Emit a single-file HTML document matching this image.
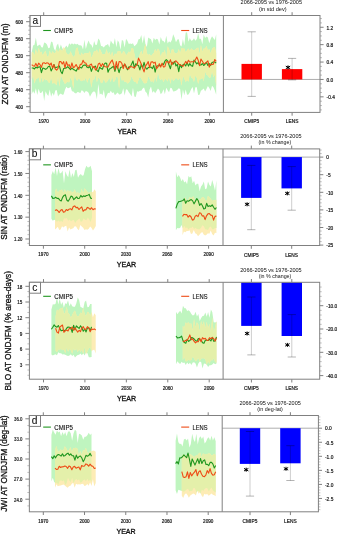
<!DOCTYPE html>
<html><head><meta charset="utf-8"><style>
html,body{margin:0;padding:0;background:#fff;width:337px;height:534px;overflow:hidden}
svg{display:block;will-change:transform}
</style></head><body>
<svg width="337" height="534" viewBox="0 0 337 534"><rect width="337" height="534" fill="#fff"/><clipPath id="cl1"><path d="M31.7,52.27 L33.09,45.51 L34.47,44.81 L35.86,37.61 L37.25,46.29 L38.64,45.22 L40.02,44.46 L41.41,47.23 L42.8,47.53 L44.18,42.58 L45.57,43.12 L46.96,44.43 L48.35,48.23 L49.73,47.77 L51.12,41.56 L52.51,42.13 L53.9,48.21 L55.28,50.93 L56.67,45.59 L58.06,43.39 L59.44,49.21 L60.83,44.53 L62.22,47.9 L63.61,50.57 L64.99,47.5 L66.38,45.61 L67.77,47.74 L69.15,43.16 L70.54,44.65 L71.93,43.3 L73.32,44.47 L74.7,43.5 L76.09,44.44 L77.48,43.76 L78.87,45.26 L80.25,45.13 L81.64,45.85 L83.03,49.46 L84.41,39.68 L85.8,49.02 L87.19,43.91 L88.58,40.58 L89.96,44.04 L91.35,44.86 L92.74,48.04 L94.12,40.94 L95.51,45.07 L96.9,44.65 L98.29,38.61 L99.67,40.17 L101.06,45.97 L102.45,46.19 L103.84,47.4 L105.22,45.48 L106.61,44.93 L108,43.94 L109.38,47.44 L110.77,40.58 L112.16,42.8 L113.55,44.45 L114.93,37.88 L116.32,47.32 L117.71,40.29 L119.09,42.58 L120.48,49.84 L121.87,39.9 L123.26,40.8 L124.64,47.61 L126.03,38.8 L127.42,40.85 L128.81,43.89 L130.19,43.6 L131.58,43.96 L132.97,43.14 L134.35,46.26 L135.74,45.09 L137.13,43.61 L138.52,39.3 L139.9,39.11 L141.29,35.07 L142.68,43.55 L144.06,35.18 L145.45,44 L146.84,47.1 L148.23,37.42 L149.61,38.57 L151,39.17 L152.39,43.39 L153.78,37.71 L155.16,40.05 L156.55,38.68 L157.94,39.51 L159.32,44.54 L160.71,37.02 L162.1,40.38 L163.49,40.97 L164.87,42.84 L166.26,35.76 L167.65,43.55 L169.03,41.24 L170.42,42.62 L171.81,39.9 L173.2,34.19 L174.58,37.39 L175.97,42.16 L177.36,39.52 L178.75,39.17 L180.13,45.17 L181.52,46.46 L182.91,39 L184.29,45.43 L185.68,32.41 L187.07,32.16 L188.46,41.71 L189.84,37.92 L191.23,40.63 L192.62,40.35 L194,38.29 L195.39,40.77 L196.78,38.94 L198.17,33.32 L199.55,39.03 L200.94,38.86 L202.33,44.22 L203.72,34.38 L205.1,38.1 L206.49,36.57 L207.88,37.47 L209.26,43.31 L210.65,39.02 L212.04,36.17 L213.43,38.14 L214.81,40.1 L216.2,34.22 L216.2,94.73 L214.81,90.39 L213.43,87.36 L212.04,85.7 L210.65,90.9 L209.26,88.11 L207.88,86.06 L206.49,88.99 L205.1,91.38 L203.72,88.59 L202.33,89.81 L200.94,90.65 L199.55,94.69 L198.17,94.91 L196.78,87.13 L195.39,87.15 L194,93.5 L192.62,86.99 L191.23,89.1 L189.84,92.21 L188.46,94.44 L187.07,94.87 L185.68,89.45 L184.29,95.36 L182.91,89.44 L181.52,99.76 L180.13,89.1 L178.75,88.25 L177.36,89.81 L175.97,90.74 L174.58,91.26 L173.2,91.58 L171.81,88.24 L170.42,87.81 L169.03,92.24 L167.65,90.23 L166.26,87.74 L164.87,94.28 L163.49,89.17 L162.1,92.7 L160.71,94.23 L159.32,90.11 L157.94,88.56 L156.55,91.02 L155.16,93.18 L153.78,90.91 L152.39,92.64 L151,86.39 L149.61,89.46 L148.23,97.4 L146.84,93.02 L145.45,91.76 L144.06,87.61 L142.68,88.61 L141.29,90.69 L139.9,90.79 L138.52,91.85 L137.13,91.14 L135.74,97.03 L134.35,96.58 L132.97,87.76 L131.58,96.44 L130.19,93.95 L128.81,92.24 L127.42,89.73 L126.03,89.31 L124.64,95.47 L123.26,88.33 L121.87,93.25 L120.48,94.2 L119.09,94.56 L117.71,92.45 L116.32,93.7 L114.93,95.36 L113.55,92.33 L112.16,92.89 L110.77,90.77 L109.38,93.24 L108,92.66 L106.61,95.63 L105.22,98.76 L103.84,89.65 L102.45,95.31 L101.06,93.55 L99.67,94.41 L98.29,84.12 L96.9,99.23 L95.51,92.65 L94.12,91.35 L92.74,92.05 L91.35,93.89 L89.96,96.74 L88.58,92.7 L87.19,91.4 L85.8,91.1 L84.41,93.1 L83.03,91 L81.64,90.21 L80.25,93.21 L78.87,92.29 L77.48,91.92 L76.09,93.6 L74.7,92.89 L73.32,91.52 L71.93,91.19 L70.54,86.79 L69.15,87.99 L67.77,88.29 L66.38,86.8 L64.99,89.77 L63.61,94.48 L62.22,94.79 L60.83,93.39 L59.44,94.41 L58.06,96.39 L56.67,90.12 L55.28,90.44 L53.9,95.84 L52.51,92.66 L51.12,96.76 L49.73,89.6 L48.35,96.07 L46.96,94.32 L45.57,91.33 L44.18,101.04 L42.8,90.74 L41.41,92.66 L40.02,93.01 L38.64,88.7 L37.25,95.11 L35.86,88.24 L34.47,93.68 L33.09,91.09 L31.7,94.32 Z"/></clipPath><path d="M31.7,52.27 L33.09,45.51 L34.47,44.81 L35.86,37.61 L37.25,46.29 L38.64,45.22 L40.02,44.46 L41.41,47.23 L42.8,47.53 L44.18,42.58 L45.57,43.12 L46.96,44.43 L48.35,48.23 L49.73,47.77 L51.12,41.56 L52.51,42.13 L53.9,48.21 L55.28,50.93 L56.67,45.59 L58.06,43.39 L59.44,49.21 L60.83,44.53 L62.22,47.9 L63.61,50.57 L64.99,47.5 L66.38,45.61 L67.77,47.74 L69.15,43.16 L70.54,44.65 L71.93,43.3 L73.32,44.47 L74.7,43.5 L76.09,44.44 L77.48,43.76 L78.87,45.26 L80.25,45.13 L81.64,45.85 L83.03,49.46 L84.41,39.68 L85.8,49.02 L87.19,43.91 L88.58,40.58 L89.96,44.04 L91.35,44.86 L92.74,48.04 L94.12,40.94 L95.51,45.07 L96.9,44.65 L98.29,38.61 L99.67,40.17 L101.06,45.97 L102.45,46.19 L103.84,47.4 L105.22,45.48 L106.61,44.93 L108,43.94 L109.38,47.44 L110.77,40.58 L112.16,42.8 L113.55,44.45 L114.93,37.88 L116.32,47.32 L117.71,40.29 L119.09,42.58 L120.48,49.84 L121.87,39.9 L123.26,40.8 L124.64,47.61 L126.03,38.8 L127.42,40.85 L128.81,43.89 L130.19,43.6 L131.58,43.96 L132.97,43.14 L134.35,46.26 L135.74,45.09 L137.13,43.61 L138.52,39.3 L139.9,39.11 L141.29,35.07 L142.68,43.55 L144.06,35.18 L145.45,44 L146.84,47.1 L148.23,37.42 L149.61,38.57 L151,39.17 L152.39,43.39 L153.78,37.71 L155.16,40.05 L156.55,38.68 L157.94,39.51 L159.32,44.54 L160.71,37.02 L162.1,40.38 L163.49,40.97 L164.87,42.84 L166.26,35.76 L167.65,43.55 L169.03,41.24 L170.42,42.62 L171.81,39.9 L173.2,34.19 L174.58,37.39 L175.97,42.16 L177.36,39.52 L178.75,39.17 L180.13,45.17 L181.52,46.46 L182.91,39 L184.29,45.43 L185.68,32.41 L187.07,32.16 L188.46,41.71 L189.84,37.92 L191.23,40.63 L192.62,40.35 L194,38.29 L195.39,40.77 L196.78,38.94 L198.17,33.32 L199.55,39.03 L200.94,38.86 L202.33,44.22 L203.72,34.38 L205.1,38.1 L206.49,36.57 L207.88,37.47 L209.26,43.31 L210.65,39.02 L212.04,36.17 L213.43,38.14 L214.81,40.1 L216.2,34.22 L216.2,94.73 L214.81,90.39 L213.43,87.36 L212.04,85.7 L210.65,90.9 L209.26,88.11 L207.88,86.06 L206.49,88.99 L205.1,91.38 L203.72,88.59 L202.33,89.81 L200.94,90.65 L199.55,94.69 L198.17,94.91 L196.78,87.13 L195.39,87.15 L194,93.5 L192.62,86.99 L191.23,89.1 L189.84,92.21 L188.46,94.44 L187.07,94.87 L185.68,89.45 L184.29,95.36 L182.91,89.44 L181.52,99.76 L180.13,89.1 L178.75,88.25 L177.36,89.81 L175.97,90.74 L174.58,91.26 L173.2,91.58 L171.81,88.24 L170.42,87.81 L169.03,92.24 L167.65,90.23 L166.26,87.74 L164.87,94.28 L163.49,89.17 L162.1,92.7 L160.71,94.23 L159.32,90.11 L157.94,88.56 L156.55,91.02 L155.16,93.18 L153.78,90.91 L152.39,92.64 L151,86.39 L149.61,89.46 L148.23,97.4 L146.84,93.02 L145.45,91.76 L144.06,87.61 L142.68,88.61 L141.29,90.69 L139.9,90.79 L138.52,91.85 L137.13,91.14 L135.74,97.03 L134.35,96.58 L132.97,87.76 L131.58,96.44 L130.19,93.95 L128.81,92.24 L127.42,89.73 L126.03,89.31 L124.64,95.47 L123.26,88.33 L121.87,93.25 L120.48,94.2 L119.09,94.56 L117.71,92.45 L116.32,93.7 L114.93,95.36 L113.55,92.33 L112.16,92.89 L110.77,90.77 L109.38,93.24 L108,92.66 L106.61,95.63 L105.22,98.76 L103.84,89.65 L102.45,95.31 L101.06,93.55 L99.67,94.41 L98.29,84.12 L96.9,99.23 L95.51,92.65 L94.12,91.35 L92.74,92.05 L91.35,93.89 L89.96,96.74 L88.58,92.7 L87.19,91.4 L85.8,91.1 L84.41,93.1 L83.03,91 L81.64,90.21 L80.25,93.21 L78.87,92.29 L77.48,91.92 L76.09,93.6 L74.7,92.89 L73.32,91.52 L71.93,91.19 L70.54,86.79 L69.15,87.99 L67.77,88.29 L66.38,86.8 L64.99,89.77 L63.61,94.48 L62.22,94.79 L60.83,93.39 L59.44,94.41 L58.06,96.39 L56.67,90.12 L55.28,90.44 L53.9,95.84 L52.51,92.66 L51.12,96.76 L49.73,89.6 L48.35,96.07 L46.96,94.32 L45.57,91.33 L44.18,101.04 L42.8,90.74 L41.41,92.66 L40.02,93.01 L38.64,88.7 L37.25,95.11 L35.86,88.24 L34.47,93.68 L33.09,91.09 L31.7,94.32 Z" fill="#bff5bf"/><path d="M31.7,52.35 L33.09,52.19 L34.47,55.42 L35.86,48.98 L37.25,54.59 L38.64,47.71 L40.02,51.92 L41.41,51.84 L42.8,55.66 L44.18,52.46 L45.57,50.78 L46.96,56.35 L48.35,57.01 L49.73,50.57 L51.12,54.44 L52.51,51.25 L53.9,52.95 L55.28,53.22 L56.67,48.93 L58.06,52.68 L59.44,49.53 L60.83,49.73 L62.22,51.22 L63.61,46.94 L64.99,48.37 L66.38,53.15 L67.77,54.3 L69.15,54.89 L70.54,51.2 L71.93,54.45 L73.32,56.89 L74.7,55.8 L76.09,48.62 L77.48,47.61 L78.87,53.63 L80.25,55.98 L81.64,52.43 L83.03,55.17 L84.41,53.19 L85.8,53.13 L87.19,53.33 L88.58,53.12 L89.96,51.31 L91.35,57.67 L92.74,55.08 L94.12,50.93 L95.51,51.68 L96.9,49.55 L98.29,53.8 L99.67,48.45 L101.06,51.5 L102.45,54.52 L103.84,53.98 L105.22,54.01 L106.61,49.08 L108,54.52 L109.38,51.99 L110.77,56.07 L112.16,51.57 L113.55,57.04 L114.93,53.49 L116.32,54.41 L117.71,51.2 L119.09,51.15 L120.48,51.2 L121.87,55.07 L123.26,51 L124.64,51.92 L126.03,55.51 L127.42,53.67 L128.81,51.49 L130.19,53 L131.58,48.26 L132.97,47.95 L134.35,53.38 L135.74,59.87 L137.13,57.77 L138.52,59.19 L139.9,53.72 L141.29,50.63 L142.68,55.09 L144.06,48.74 L145.45,44.07 L146.84,53.25 L148.23,54.95 L149.61,54.02 L151,56.37 L152.39,54.16 L153.78,52.98 L155.16,49.04 L156.55,51.59 L157.94,48.61 L159.32,50.85 L160.71,57.18 L162.1,52.41 L163.49,52.84 L164.87,49.81 L166.26,59.01 L167.65,46.13 L169.03,49.06 L170.42,54.27 L171.81,49.48 L173.2,49.32 L174.58,52.94 L175.97,53.58 L177.36,53.36 L178.75,49.02 L180.13,53.49 L181.52,47.96 L182.91,48.74 L184.29,48.49 L185.68,52.16 L187.07,50.22 L188.46,48.51 L189.84,51.23 L191.23,48.24 L192.62,49.66 L194,50.17 L195.39,49.42 L196.78,48.16 L198.17,47.45 L199.55,53.98 L200.94,45.08 L202.33,51.67 L203.72,48.55 L205.1,48.79 L206.49,45.74 L207.88,50.62 L209.26,49.12 L210.65,53.6 L212.04,49.02 L213.43,47.52 L214.81,47.17 L216.2,53.18 L216.2,86.05 L214.81,74.34 L213.43,77.49 L212.04,70.38 L210.65,77.28 L209.26,77.75 L207.88,75.59 L206.49,74.87 L205.1,71.55 L203.72,81.41 L202.33,77.47 L200.94,79.13 L199.55,79.04 L198.17,83.9 L196.78,77.77 L195.39,75.39 L194,82.11 L192.62,78.27 L191.23,77.47 L189.84,73.38 L188.46,81.81 L187.07,80.05 L185.68,82.1 L184.29,78.56 L182.91,75.38 L181.52,85.73 L180.13,77.26 L178.75,79.82 L177.36,79.23 L175.97,77.61 L174.58,79.72 L173.2,81.03 L171.81,77.1 L170.42,84.02 L169.03,76.47 L167.65,81.58 L166.26,79.49 L164.87,78.81 L163.49,82.35 L162.1,78.52 L160.71,79.93 L159.32,78.2 L157.94,70.98 L156.55,81.91 L155.16,76.05 L153.78,82.78 L152.39,81.09 L151,81.83 L149.61,78.73 L148.23,76.11 L146.84,82.63 L145.45,83.37 L144.06,83.31 L142.68,81.06 L141.29,78.47 L139.9,76.47 L138.52,79.74 L137.13,84 L135.74,82.02 L134.35,82.07 L132.97,79.48 L131.58,75.97 L130.19,80.44 L128.81,82.85 L127.42,83.49 L126.03,81.6 L124.64,82.06 L123.26,79.5 L121.87,80.84 L120.48,74.03 L119.09,88.63 L117.71,77.23 L116.32,76.68 L114.93,80.69 L113.55,81.97 L112.16,75.79 L110.77,82.27 L109.38,77.73 L108,80.32 L106.61,82.17 L105.22,82.58 L103.84,78.48 L102.45,82.57 L101.06,83.26 L99.67,78.67 L98.29,77.56 L96.9,82.22 L95.51,74.81 L94.12,79.45 L92.74,79.18 L91.35,87.71 L89.96,77.4 L88.58,78.88 L87.19,82.81 L85.8,77.41 L84.41,80.6 L83.03,80.03 L81.64,81.14 L80.25,80.35 L78.87,77.93 L77.48,80.43 L76.09,79.97 L74.7,72.73 L73.32,88.67 L71.93,80.73 L70.54,77.15 L69.15,82.39 L67.77,81.75 L66.38,82.58 L64.99,83.89 L63.61,81.6 L62.22,78.43 L60.83,75.36 L59.44,86.4 L58.06,75.67 L56.67,85.27 L55.28,83.79 L53.9,82.75 L52.51,83.72 L51.12,76.93 L49.73,82.7 L48.35,82.15 L46.96,79.51 L45.57,80.32 L44.18,78.41 L42.8,82.19 L41.41,76.63 L40.02,83.08 L38.64,76.91 L37.25,78.52 L35.86,79.3 L34.47,83.51 L33.09,75.34 L31.7,79.71 Z" fill="#fdecb5"/><path d="M31.7,52.35 L33.09,52.19 L34.47,55.42 L35.86,48.98 L37.25,54.59 L38.64,47.71 L40.02,51.92 L41.41,51.84 L42.8,55.66 L44.18,52.46 L45.57,50.78 L46.96,56.35 L48.35,57.01 L49.73,50.57 L51.12,54.44 L52.51,51.25 L53.9,52.95 L55.28,53.22 L56.67,48.93 L58.06,52.68 L59.44,49.53 L60.83,49.73 L62.22,51.22 L63.61,46.94 L64.99,48.37 L66.38,53.15 L67.77,54.3 L69.15,54.89 L70.54,51.2 L71.93,54.45 L73.32,56.89 L74.7,55.8 L76.09,48.62 L77.48,47.61 L78.87,53.63 L80.25,55.98 L81.64,52.43 L83.03,55.17 L84.41,53.19 L85.8,53.13 L87.19,53.33 L88.58,53.12 L89.96,51.31 L91.35,57.67 L92.74,55.08 L94.12,50.93 L95.51,51.68 L96.9,49.55 L98.29,53.8 L99.67,48.45 L101.06,51.5 L102.45,54.52 L103.84,53.98 L105.22,54.01 L106.61,49.08 L108,54.52 L109.38,51.99 L110.77,56.07 L112.16,51.57 L113.55,57.04 L114.93,53.49 L116.32,54.41 L117.71,51.2 L119.09,51.15 L120.48,51.2 L121.87,55.07 L123.26,51 L124.64,51.92 L126.03,55.51 L127.42,53.67 L128.81,51.49 L130.19,53 L131.58,48.26 L132.97,47.95 L134.35,53.38 L135.74,59.87 L137.13,57.77 L138.52,59.19 L139.9,53.72 L141.29,50.63 L142.68,55.09 L144.06,48.74 L145.45,44.07 L146.84,53.25 L148.23,54.95 L149.61,54.02 L151,56.37 L152.39,54.16 L153.78,52.98 L155.16,49.04 L156.55,51.59 L157.94,48.61 L159.32,50.85 L160.71,57.18 L162.1,52.41 L163.49,52.84 L164.87,49.81 L166.26,59.01 L167.65,46.13 L169.03,49.06 L170.42,54.27 L171.81,49.48 L173.2,49.32 L174.58,52.94 L175.97,53.58 L177.36,53.36 L178.75,49.02 L180.13,53.49 L181.52,47.96 L182.91,48.74 L184.29,48.49 L185.68,52.16 L187.07,50.22 L188.46,48.51 L189.84,51.23 L191.23,48.24 L192.62,49.66 L194,50.17 L195.39,49.42 L196.78,48.16 L198.17,47.45 L199.55,53.98 L200.94,45.08 L202.33,51.67 L203.72,48.55 L205.1,48.79 L206.49,45.74 L207.88,50.62 L209.26,49.12 L210.65,53.6 L212.04,49.02 L213.43,47.52 L214.81,47.17 L216.2,53.18 L216.2,86.05 L214.81,74.34 L213.43,77.49 L212.04,70.38 L210.65,77.28 L209.26,77.75 L207.88,75.59 L206.49,74.87 L205.1,71.55 L203.72,81.41 L202.33,77.47 L200.94,79.13 L199.55,79.04 L198.17,83.9 L196.78,77.77 L195.39,75.39 L194,82.11 L192.62,78.27 L191.23,77.47 L189.84,73.38 L188.46,81.81 L187.07,80.05 L185.68,82.1 L184.29,78.56 L182.91,75.38 L181.52,85.73 L180.13,77.26 L178.75,79.82 L177.36,79.23 L175.97,77.61 L174.58,79.72 L173.2,81.03 L171.81,77.1 L170.42,84.02 L169.03,76.47 L167.65,81.58 L166.26,79.49 L164.87,78.81 L163.49,82.35 L162.1,78.52 L160.71,79.93 L159.32,78.2 L157.94,70.98 L156.55,81.91 L155.16,76.05 L153.78,82.78 L152.39,81.09 L151,81.83 L149.61,78.73 L148.23,76.11 L146.84,82.63 L145.45,83.37 L144.06,83.31 L142.68,81.06 L141.29,78.47 L139.9,76.47 L138.52,79.74 L137.13,84 L135.74,82.02 L134.35,82.07 L132.97,79.48 L131.58,75.97 L130.19,80.44 L128.81,82.85 L127.42,83.49 L126.03,81.6 L124.64,82.06 L123.26,79.5 L121.87,80.84 L120.48,74.03 L119.09,88.63 L117.71,77.23 L116.32,76.68 L114.93,80.69 L113.55,81.97 L112.16,75.79 L110.77,82.27 L109.38,77.73 L108,80.32 L106.61,82.17 L105.22,82.58 L103.84,78.48 L102.45,82.57 L101.06,83.26 L99.67,78.67 L98.29,77.56 L96.9,82.22 L95.51,74.81 L94.12,79.45 L92.74,79.18 L91.35,87.71 L89.96,77.4 L88.58,78.88 L87.19,82.81 L85.8,77.41 L84.41,80.6 L83.03,80.03 L81.64,81.14 L80.25,80.35 L78.87,77.93 L77.48,80.43 L76.09,79.97 L74.7,72.73 L73.32,88.67 L71.93,80.73 L70.54,77.15 L69.15,82.39 L67.77,81.75 L66.38,82.58 L64.99,83.89 L63.61,81.6 L62.22,78.43 L60.83,75.36 L59.44,86.4 L58.06,75.67 L56.67,85.27 L55.28,83.79 L53.9,82.75 L52.51,83.72 L51.12,76.93 L49.73,82.7 L48.35,82.15 L46.96,79.51 L45.57,80.32 L44.18,78.41 L42.8,82.19 L41.41,76.63 L40.02,83.08 L38.64,76.91 L37.25,78.52 L35.86,79.3 L34.47,83.51 L33.09,75.34 L31.7,79.71 Z" fill="#ebf0a6" clip-path="url(#cl1)"/><polyline points="31.7,68.06 33.09,68.03 34.47,68.95 35.86,67.14 37.25,68.05 38.64,66.98 40.02,66.72 41.41,72.61 42.8,67.97 44.18,68.43 45.57,69.35 46.96,68.57 48.35,66.46 49.73,66.17 51.12,70.9 52.51,68.33 53.9,64.58 55.28,67.92 56.67,67.16 58.06,66.69 59.44,66.05 60.83,71.51 62.22,73.59 63.61,68.51 64.99,68.16 66.38,67.9 67.77,66.57 69.15,68.11 70.54,69.7 71.93,68.01 73.32,69.43 74.7,70.08 76.09,71.13 77.48,68.62 78.87,67.36 80.25,67.54 81.64,68.01 83.03,65.43 84.41,65.13 85.8,65.08 87.19,67.52 88.58,67.76 89.96,66.46 91.35,71.32 92.74,67.65 94.12,66.72 95.51,66.12 96.9,70.42 98.29,71.56 99.67,67.16 101.06,68.55 102.45,69.21 103.84,64.79 105.22,62.96 106.61,63.2 108,72.22 109.38,69.04 110.77,68.44 112.16,67.22 113.55,66.27 114.93,71.34 116.32,66.18 117.71,67.75 119.09,72.63 120.48,67.53 121.87,67.06 123.26,66.38 124.64,64.3 126.03,66.08 127.42,69.8 128.81,66.91 130.19,67.12 131.58,64.16 132.97,60.96 134.35,68.06 135.74,63.71 137.13,64.99 138.52,65.52 139.9,69.91 141.29,64.33 142.68,68.03 144.06,62.33 145.45,67.39 146.84,69.23 148.23,67.57 149.61,67.42 151,67 152.39,68.64 153.78,65.39 155.16,72.08 156.55,66.19 157.94,65.77 159.32,65.43 160.71,65.7 162.1,64.03 163.49,64.5 164.87,61.21 166.26,59.67 167.65,60.97 169.03,64.97 170.42,68.76 171.81,62.12 173.2,64.17 174.58,61.37 175.97,65.97 177.36,64.32 178.75,71.69 180.13,64.47 181.52,67.63 182.91,64.78 184.29,64.12 185.68,65.96 187.07,62.35 188.46,66.06 189.84,63.61 191.23,65.82 192.62,66.32 194,60.08 195.39,61.93 196.78,63.8 198.17,62.67 199.55,64.93 200.94,65 202.33,63.53 203.72,65.49 205.1,64.2 206.49,62.51 207.88,65.49 209.26,63.61 210.65,65.45 212.04,62.48 213.43,62.05 214.81,62.05 216.2,63.18" fill="none" stroke="#1f961f" stroke-width="1.1" stroke-linejoin="round"/><polyline points="31.7,64.83 33.09,65.64 34.47,66.17 35.86,63.38 37.25,66.51 38.64,63.19 40.02,64.71 41.41,67.36 42.8,62.92 44.18,62.73 45.57,63.63 46.96,62.82 48.35,63.18 49.73,65.07 51.12,63 52.51,67.95 53.9,64.63 55.28,69.1 56.67,70.06 58.06,68.33 59.44,61.67 60.83,61.55 62.22,64.1 63.61,61.69 64.99,67.92 66.38,61.72 67.77,65.64 69.15,64.67 70.54,68.34 71.93,62.93 73.32,67.76 74.7,66.79 76.09,64.46 77.48,67.22 78.87,69.34 80.25,64.38 81.64,64.2 83.03,60.37 84.41,62.8 85.8,62.94 87.19,65.66 88.58,66.17 89.96,64.93 91.35,64.02 92.74,67.91 94.12,66.51 95.51,70.04 96.9,68.87 98.29,64.08 99.67,63.16 101.06,66.43 102.45,63.64 103.84,65.78 105.22,66.75 106.61,67.05 108,67.04 109.38,64.19 110.77,61.88 112.16,59.97 113.55,63.95 114.93,69.75 116.32,61.64 117.71,68.18 119.09,61.51 120.48,61.7 121.87,63.51 123.26,68.58 124.64,63.78 126.03,67.28 127.42,68.6 128.81,68.93 130.19,66.22 131.58,66.8 132.97,67.19 134.35,67.89 135.74,65.96 137.13,64.6 138.52,58.15 139.9,60.9 141.29,64.22 142.68,68.07 144.06,71.94 145.45,66.08 146.84,64.18 148.23,61.62 149.61,67.64 151,62.1 152.39,61.74 153.78,63.16 155.16,62.13 156.55,68.68 157.94,66.92 159.32,63.77 160.71,67.09 162.1,63.16 163.49,67.01 164.87,66.71 166.26,61.61 167.65,61.68 169.03,63.15 170.42,59.8 171.81,64.64 173.2,62.38 174.58,62.04 175.97,60.76 177.36,62.33 178.75,64.17 180.13,64.77 181.52,65.39 182.91,66.42 184.29,64.32 185.68,61.38 187.07,63.34 188.46,60.23 189.84,62.29 191.23,61.81 192.62,61.7 194,61.96 195.39,59.75 196.78,57.01 198.17,60.18 199.55,65.72 200.94,59.01 202.33,61.28 203.72,63.56 205.1,63.29 206.49,62.17 207.88,60.82 209.26,67.13 210.65,64 212.04,64.53 213.43,64.12 214.81,59.46 216.2,61.41" fill="none" stroke="#ee4b16" stroke-width="1.1" stroke-linejoin="round"/><clipPath id="cl2"><path d="M51.4,175.06 L52.8,171.02 L54.2,174.25 L55.6,167.45 L57,176.04 L58.4,168.03 L59.8,173.42 L61.2,172.98 L62.6,170.58 L64,183.45 L65.4,171.31 L66.8,175.05 L68.2,177.24 L69.6,169.15 L71,178.1 L72.4,172.97 L73.8,176.94 L75.2,170.2 L76.6,169.8 L78,177.63 L79.4,175.16 L80.8,173.89 L82.2,175.64 L83.6,175.25 L85,169.36 L86.4,165.65 L87.8,167.51 L89.2,167.14 L90.6,165.64 L92,171.13 L92,217.58 L90.6,222.09 L89.2,219.56 L87.8,217.51 L86.4,220.32 L85,219.73 L83.6,218.31 L82.2,221.36 L80.8,221.7 L79.4,218.43 L78,219.86 L76.6,220.8 L75.2,223.1 L73.8,220.06 L72.4,220.33 L71,221.22 L69.6,219.47 L68.2,220.67 L66.8,217.92 L65.4,218.62 L64,218.23 L62.6,222 L61.2,221.06 L59.8,221.79 L58.4,220.55 L57,221.76 L55.6,220.41 L54.2,219.65 L52.8,220.84 L51.4,218.63 Z"/></clipPath><path d="M51.4,175.06 L52.8,171.02 L54.2,174.25 L55.6,167.45 L57,176.04 L58.4,168.03 L59.8,173.42 L61.2,172.98 L62.6,170.58 L64,183.45 L65.4,171.31 L66.8,175.05 L68.2,177.24 L69.6,169.15 L71,178.1 L72.4,172.97 L73.8,176.94 L75.2,170.2 L76.6,169.8 L78,177.63 L79.4,175.16 L80.8,173.89 L82.2,175.64 L83.6,175.25 L85,169.36 L86.4,165.65 L87.8,167.51 L89.2,167.14 L90.6,165.64 L92,171.13 L92,217.58 L90.6,222.09 L89.2,219.56 L87.8,217.51 L86.4,220.32 L85,219.73 L83.6,218.31 L82.2,221.36 L80.8,221.7 L79.4,218.43 L78,219.86 L76.6,220.8 L75.2,223.1 L73.8,220.06 L72.4,220.33 L71,221.22 L69.6,219.47 L68.2,220.67 L66.8,217.92 L65.4,218.62 L64,218.23 L62.6,222 L61.2,221.06 L59.8,221.79 L58.4,220.55 L57,221.76 L55.6,220.41 L54.2,219.65 L52.8,220.84 L51.4,218.63 Z" fill="#bff5bf"/><path d="M55,191.03 L56.41,188.57 L57.81,193.15 L59.22,190.77 L60.63,190.32 L62.03,189.4 L63.44,192.85 L64.85,189.21 L66.26,192.33 L67.66,190.19 L69.07,191.25 L70.48,190.78 L71.88,192.26 L73.29,192.55 L74.7,189.29 L76.1,193.1 L77.51,192.55 L78.92,193.12 L80.32,193.94 L81.73,188.52 L83.14,194.55 L84.54,188.32 L85.95,190.04 L87.36,191.81 L88.77,193.08 L90.17,192.33 L91.58,191.85 L92.99,192.2 L94.39,189.24 L95.8,191.24 L95.8,226 L94.39,228.51 L92.99,230.48 L91.58,227.95 L90.17,226.49 L88.77,228.63 L87.36,229.66 L85.95,229.17 L84.54,230.08 L83.14,227.84 L81.73,226.51 L80.32,224.89 L78.92,230.23 L77.51,229 L76.1,226.38 L74.7,226.32 L73.29,228.31 L71.88,228.78 L70.48,229.41 L69.07,227.57 L67.66,231.39 L66.26,225.82 L64.85,226.15 L63.44,227.54 L62.03,226.31 L60.63,229.46 L59.22,229.91 L57.81,226.8 L56.41,228.25 L55,229.4 Z" fill="#fdecb5"/><path d="M55,191.03 L56.41,188.57 L57.81,193.15 L59.22,190.77 L60.63,190.32 L62.03,189.4 L63.44,192.85 L64.85,189.21 L66.26,192.33 L67.66,190.19 L69.07,191.25 L70.48,190.78 L71.88,192.26 L73.29,192.55 L74.7,189.29 L76.1,193.1 L77.51,192.55 L78.92,193.12 L80.32,193.94 L81.73,188.52 L83.14,194.55 L84.54,188.32 L85.95,190.04 L87.36,191.81 L88.77,193.08 L90.17,192.33 L91.58,191.85 L92.99,192.2 L94.39,189.24 L95.8,191.24 L95.8,226 L94.39,228.51 L92.99,230.48 L91.58,227.95 L90.17,226.49 L88.77,228.63 L87.36,229.66 L85.95,229.17 L84.54,230.08 L83.14,227.84 L81.73,226.51 L80.32,224.89 L78.92,230.23 L77.51,229 L76.1,226.38 L74.7,226.32 L73.29,228.31 L71.88,228.78 L70.48,229.41 L69.07,227.57 L67.66,231.39 L66.26,225.82 L64.85,226.15 L63.44,227.54 L62.03,226.31 L60.63,229.46 L59.22,229.91 L57.81,226.8 L56.41,228.25 L55,229.4 Z" fill="#e4f0aa" clip-path="url(#cl2)"/><clipPath id="cl3"><path d="M175.9,171.51 L177.3,177.26 L178.69,175.09 L180.09,177.44 L181.49,181.19 L182.88,178.97 L184.28,182.45 L185.68,181.36 L187.07,184.14 L188.47,175.93 L189.87,177.41 L191.26,176.27 L192.66,183.18 L194.06,180.87 L195.45,185.44 L196.85,183.87 L198.24,183.72 L199.64,191.32 L201.04,186.43 L202.43,184.73 L203.83,181.62 L205.23,189.34 L206.62,188.61 L208.02,181.57 L209.42,184.97 L210.81,186.42 L212.21,179.95 L213.61,184.82 L215,190.79 L216.4,180.35 L216.4,227.99 L215,228.03 L213.61,229.31 L212.21,229.37 L210.81,226.53 L209.42,227.18 L208.02,229.94 L206.62,229.51 L205.23,229.25 L203.83,226.24 L202.43,225.16 L201.04,227.64 L199.64,229.17 L198.24,229.22 L196.85,228.93 L195.45,227.73 L194.06,228.96 L192.66,226.39 L191.26,228.02 L189.87,227.72 L188.47,229.63 L187.07,227.16 L185.68,228.32 L184.28,225.75 L182.88,228.22 L181.49,224.99 L180.09,227.89 L178.69,228.26 L177.3,228.12 L175.9,230.33 Z"/></clipPath><path d="M175.9,171.51 L177.3,177.26 L178.69,175.09 L180.09,177.44 L181.49,181.19 L182.88,178.97 L184.28,182.45 L185.68,181.36 L187.07,184.14 L188.47,175.93 L189.87,177.41 L191.26,176.27 L192.66,183.18 L194.06,180.87 L195.45,185.44 L196.85,183.87 L198.24,183.72 L199.64,191.32 L201.04,186.43 L202.43,184.73 L203.83,181.62 L205.23,189.34 L206.62,188.61 L208.02,181.57 L209.42,184.97 L210.81,186.42 L212.21,179.95 L213.61,184.82 L215,190.79 L216.4,180.35 L216.4,227.99 L215,228.03 L213.61,229.31 L212.21,229.37 L210.81,226.53 L209.42,227.18 L208.02,229.94 L206.62,229.51 L205.23,229.25 L203.83,226.24 L202.43,225.16 L201.04,227.64 L199.64,229.17 L198.24,229.22 L196.85,228.93 L195.45,227.73 L194.06,228.96 L192.66,226.39 L191.26,228.02 L189.87,227.72 L188.47,229.63 L187.07,227.16 L185.68,228.32 L184.28,225.75 L182.88,228.22 L181.49,224.99 L180.09,227.89 L178.69,228.26 L177.3,228.12 L175.9,230.33 Z" fill="#bff5bf"/><path d="M182.5,200.2 L183.91,199.05 L185.32,197.6 L186.74,200.71 L188.15,200.26 L189.56,197.11 L190.97,198.34 L192.39,196.95 L193.8,196.62 L195.21,202.19 L196.62,198.37 L198.04,200.21 L199.45,199.58 L200.86,199.11 L202.28,197.12 L203.69,197.18 L205.1,199.8 L206.51,201.03 L207.93,195.69 L209.34,197.31 L210.75,198.64 L212.16,200.88 L213.58,199.97 L214.99,200.46 L216.4,199.43 L216.4,233.12 L214.99,232.79 L213.58,235.41 L212.16,233.91 L210.75,230.49 L209.34,233.83 L207.93,233.2 L206.51,234.8 L205.1,235.52 L203.69,234.43 L202.28,232.03 L200.86,233.09 L199.45,234.63 L198.04,236.3 L196.62,234.12 L195.21,233.3 L193.8,229.97 L192.39,233.43 L190.97,233.92 L189.56,230.31 L188.15,230.97 L186.74,231.12 L185.32,232.33 L183.91,231.51 L182.5,235.29 Z" fill="#fdecb5"/><path d="M182.5,200.2 L183.91,199.05 L185.32,197.6 L186.74,200.71 L188.15,200.26 L189.56,197.11 L190.97,198.34 L192.39,196.95 L193.8,196.62 L195.21,202.19 L196.62,198.37 L198.04,200.21 L199.45,199.58 L200.86,199.11 L202.28,197.12 L203.69,197.18 L205.1,199.8 L206.51,201.03 L207.93,195.69 L209.34,197.31 L210.75,198.64 L212.16,200.88 L213.58,199.97 L214.99,200.46 L216.4,199.43 L216.4,233.12 L214.99,232.79 L213.58,235.41 L212.16,233.91 L210.75,230.49 L209.34,233.83 L207.93,233.2 L206.51,234.8 L205.1,235.52 L203.69,234.43 L202.28,232.03 L200.86,233.09 L199.45,234.63 L198.04,236.3 L196.62,234.12 L195.21,233.3 L193.8,229.97 L192.39,233.43 L190.97,233.92 L189.56,230.31 L188.15,230.97 L186.74,231.12 L185.32,232.33 L183.91,231.51 L182.5,235.29 Z" fill="#e4f0aa" clip-path="url(#cl3)"/><polyline points="51.4,195.89 52.8,198.39 54.2,198.32 55.6,197.26 57,198.38 58.4,198.32 59.8,200.11 61.2,201.03 62.6,197.4 64,195.44 65.4,194.84 66.8,200.02 68.2,201.29 69.6,198.94 71,196.13 72.4,196.69 73.8,199.7 75.2,198.24 76.6,196.91 78,198.56 79.4,198.21 80.8,195.43 82.2,197.04 83.6,195.87 85,196.46 86.4,195.49 87.8,195.23 89.2,194.38 90.6,198.15 92,198.43" fill="none" stroke="#1f961f" stroke-width="1.1" stroke-linejoin="round"/><polyline points="55,210.52 56.41,209.72 57.81,210.77 59.22,212.54 60.63,210.16 62.03,209.45 63.44,212.23 64.85,211.73 66.26,209.53 67.66,210.55 69.07,209.19 70.48,208.78 71.88,209.82 73.29,206.58 74.7,205.91 76.1,207.64 77.51,207.41 78.92,209.53 80.32,208.15 81.73,206.9 83.14,211.28 84.54,209.8 85.95,209.84 87.36,207.39 88.77,208.11 90.17,209.41 91.58,207.71 92.99,209.72 94.39,208.72 95.8,208.92" fill="none" stroke="#ee4b16" stroke-width="1.1" stroke-linejoin="round"/><polyline points="175.9,208.38 177.3,203.99 178.69,201.6 180.09,201.54 181.49,201 182.88,200.54 184.28,198.83 185.68,203.23 187.07,200.72 188.47,201.21 189.87,200.34 191.26,199.53 192.66,200.86 194.06,203.86 195.45,201.13 196.85,198.62 198.24,200.78 199.64,205.36 201.04,203.46 202.43,205.69 203.83,208.93 205.23,208.49 206.62,203.3 208.02,206.59 209.42,205.8 210.81,206.48 212.21,204.85 213.61,207.26 215,209.3 216.4,207.49" fill="none" stroke="#1f961f" stroke-width="1.1" stroke-linejoin="round"/><polyline points="182.5,216.4 183.91,214.27 185.32,214.67 186.74,214.48 188.15,217.16 189.56,215.47 190.97,216.75 192.39,220.1 193.8,219.64 195.21,216.16 196.62,215.3 198.04,216.61 199.45,212.84 200.86,213.29 202.28,216.08 203.69,215.71 205.1,219.64 206.51,215.81 207.93,213.82 209.34,213.53 210.75,215.22 212.16,215.38 213.58,220.12 214.99,216.38 216.4,216.15" fill="none" stroke="#ee4b16" stroke-width="1.1" stroke-linejoin="round"/><clipPath id="cl4"><path d="M51.4,309.43 L52.79,304.28 L54.17,304.61 L55.56,303.75 L56.94,296.98 L58.33,304.51 L59.72,298.75 L61.1,304.74 L62.49,302.05 L63.88,307.8 L65.26,303.35 L66.65,304.05 L68.03,300.24 L69.42,306.25 L70.81,303.37 L72.19,306.17 L73.58,306.84 L74.97,306.72 L76.35,303.17 L77.74,297.38 L79.12,299.9 L80.51,306.93 L81.9,307.53 L83.28,308.53 L84.67,302.08 L86.06,300.56 L87.44,307.2 L88.83,307.06 L90.21,304.08 L91.6,303.99 L91.6,356.93 L90.21,357.24 L88.83,357.14 L87.44,353.25 L86.06,352.21 L84.67,355.52 L83.28,353.29 L81.9,355.18 L80.51,353.53 L79.12,354.87 L77.74,355.02 L76.35,356.02 L74.97,357.4 L73.58,354.76 L72.19,355.9 L70.81,354.15 L69.42,355.62 L68.03,356.03 L66.65,355.53 L65.26,354.7 L63.88,354.29 L62.49,354.54 L61.1,353.37 L59.72,353.36 L58.33,352.35 L56.94,355.35 L55.56,354.25 L54.17,354.77 L52.79,355.51 L51.4,354.53 Z"/></clipPath><path d="M51.4,309.43 L52.79,304.28 L54.17,304.61 L55.56,303.75 L56.94,296.98 L58.33,304.51 L59.72,298.75 L61.1,304.74 L62.49,302.05 L63.88,307.8 L65.26,303.35 L66.65,304.05 L68.03,300.24 L69.42,306.25 L70.81,303.37 L72.19,306.17 L73.58,306.84 L74.97,306.72 L76.35,303.17 L77.74,297.38 L79.12,299.9 L80.51,306.93 L81.9,307.53 L83.28,308.53 L84.67,302.08 L86.06,300.56 L87.44,307.2 L88.83,307.06 L90.21,304.08 L91.6,303.99 L91.6,356.93 L90.21,357.24 L88.83,357.14 L87.44,353.25 L86.06,352.21 L84.67,355.52 L83.28,353.29 L81.9,355.18 L80.51,353.53 L79.12,354.87 L77.74,355.02 L76.35,356.02 L74.97,357.4 L73.58,354.76 L72.19,355.9 L70.81,354.15 L69.42,355.62 L68.03,356.03 L66.65,355.53 L65.26,354.7 L63.88,354.29 L62.49,354.54 L61.1,353.37 L59.72,353.36 L58.33,352.35 L56.94,355.35 L55.56,354.25 L54.17,354.77 L52.79,355.51 L51.4,354.53 Z" fill="#bff5bf"/><path d="M55.6,316.25 L56.98,309.54 L58.37,310.99 L59.75,308.83 L61.13,308.57 L62.51,307.4 L63.9,313.81 L65.28,312.95 L66.66,306.8 L68.04,312.7 L69.43,314.17 L70.81,318.05 L72.19,315.08 L73.58,312.33 L74.96,310.46 L76.34,314.72 L77.72,316.65 L79.11,315.38 L80.49,312.53 L81.87,313.65 L83.26,307.72 L84.64,313.8 L86.02,316.46 L87.4,311.8 L88.79,312.39 L90.17,315.86 L91.55,311.99 L92.93,317.21 L94.32,313.13 L95.7,315.32 L95.7,353.47 L94.32,349.73 L92.93,350.06 L91.55,351.3 L90.17,347.54 L88.79,348.13 L87.4,351.52 L86.02,354.73 L84.64,346.61 L83.26,353.94 L81.87,349.87 L80.49,352.08 L79.11,348.93 L77.72,352.3 L76.34,348.63 L74.96,350.61 L73.58,348.5 L72.19,353.73 L70.81,350.15 L69.43,349.12 L68.04,351.8 L66.66,347.42 L65.28,353.26 L63.9,349.57 L62.51,350.17 L61.13,349.06 L59.75,349.61 L58.37,349.24 L56.98,352.04 L55.6,350.84 Z" fill="#fdecb5"/><path d="M55.6,316.25 L56.98,309.54 L58.37,310.99 L59.75,308.83 L61.13,308.57 L62.51,307.4 L63.9,313.81 L65.28,312.95 L66.66,306.8 L68.04,312.7 L69.43,314.17 L70.81,318.05 L72.19,315.08 L73.58,312.33 L74.96,310.46 L76.34,314.72 L77.72,316.65 L79.11,315.38 L80.49,312.53 L81.87,313.65 L83.26,307.72 L84.64,313.8 L86.02,316.46 L87.4,311.8 L88.79,312.39 L90.17,315.86 L91.55,311.99 L92.93,317.21 L94.32,313.13 L95.7,315.32 L95.7,353.47 L94.32,349.73 L92.93,350.06 L91.55,351.3 L90.17,347.54 L88.79,348.13 L87.4,351.52 L86.02,354.73 L84.64,346.61 L83.26,353.94 L81.87,349.87 L80.49,352.08 L79.11,348.93 L77.72,352.3 L76.34,348.63 L74.96,350.61 L73.58,348.5 L72.19,353.73 L70.81,350.15 L69.43,349.12 L68.04,351.8 L66.66,347.42 L65.28,353.26 L63.9,349.57 L62.51,350.17 L61.13,349.06 L59.75,349.61 L58.37,349.24 L56.98,352.04 L55.6,350.84 Z" fill="#e4f0aa" clip-path="url(#cl4)"/><clipPath id="cl5"><path d="M176,311.81 L177.4,314.19 L178.79,312.2 L180.19,310.78 L181.59,313.48 L182.98,305.78 L184.38,308.22 L185.78,308.14 L187.17,311.01 L188.57,310.27 L189.97,311.38 L191.36,313.9 L192.76,315.59 L194.16,314.94 L195.55,311.65 L196.95,316.48 L198.34,314 L199.74,321.12 L201.14,318.04 L202.53,315.92 L203.93,315.74 L205.33,312.44 L206.72,316.74 L208.12,312.06 L209.52,317.81 L210.91,309.52 L212.31,312.25 L213.71,322.21 L215.1,322.58 L216.5,321.9 L216.5,363.39 L215.1,364.25 L213.71,362.98 L212.31,364.38 L210.91,365.19 L209.52,365.29 L208.12,366.9 L206.72,364.5 L205.33,363.84 L203.93,363.6 L202.53,368.62 L201.14,362.06 L199.74,361.39 L198.34,363.51 L196.95,367.39 L195.55,363.38 L194.16,362.17 L192.76,362.49 L191.36,364.89 L189.97,362.64 L188.57,364.21 L187.17,362.58 L185.78,364.9 L184.38,362.4 L182.98,362.88 L181.59,361.78 L180.19,364.12 L178.79,362.93 L177.4,361.25 L176,364.23 Z"/></clipPath><path d="M176,311.81 L177.4,314.19 L178.79,312.2 L180.19,310.78 L181.59,313.48 L182.98,305.78 L184.38,308.22 L185.78,308.14 L187.17,311.01 L188.57,310.27 L189.97,311.38 L191.36,313.9 L192.76,315.59 L194.16,314.94 L195.55,311.65 L196.95,316.48 L198.34,314 L199.74,321.12 L201.14,318.04 L202.53,315.92 L203.93,315.74 L205.33,312.44 L206.72,316.74 L208.12,312.06 L209.52,317.81 L210.91,309.52 L212.31,312.25 L213.71,322.21 L215.1,322.58 L216.5,321.9 L216.5,363.39 L215.1,364.25 L213.71,362.98 L212.31,364.38 L210.91,365.19 L209.52,365.29 L208.12,366.9 L206.72,364.5 L205.33,363.84 L203.93,363.6 L202.53,368.62 L201.14,362.06 L199.74,361.39 L198.34,363.51 L196.95,367.39 L195.55,363.38 L194.16,362.17 L192.76,362.49 L191.36,364.89 L189.97,362.64 L188.57,364.21 L187.17,362.58 L185.78,364.9 L184.38,362.4 L182.98,362.88 L181.59,361.78 L180.19,364.12 L178.79,362.93 L177.4,361.25 L176,364.23 Z" fill="#bff5bf"/><path d="M182.8,325.68 L184.2,328.08 L185.61,322.48 L187.01,323.23 L188.42,322.13 L189.82,324.33 L191.23,323.14 L192.63,330.51 L194.03,318.84 L195.44,327.61 L196.84,322.24 L198.25,324.3 L199.65,331.46 L201.05,321 L202.46,325.23 L203.86,321.26 L205.27,328.61 L206.67,321.85 L208.07,328.17 L209.48,323.74 L210.88,331.88 L212.29,317.22 L213.69,333.47 L215.1,327.04 L216.5,320.27 L216.5,362.63 L215.1,361.88 L213.69,358.25 L212.29,360.49 L210.88,360.12 L209.48,363.76 L208.07,360.9 L206.67,364.94 L205.27,358.95 L203.86,358.14 L202.46,358.33 L201.05,358.57 L199.65,361.72 L198.25,357.63 L196.84,360.29 L195.44,361.12 L194.03,358.57 L192.63,356.83 L191.23,359.95 L189.82,360.49 L188.42,359.59 L187.01,361.19 L185.61,361.28 L184.2,356.51 L182.8,360.35 Z" fill="#fdecb5"/><path d="M182.8,325.68 L184.2,328.08 L185.61,322.48 L187.01,323.23 L188.42,322.13 L189.82,324.33 L191.23,323.14 L192.63,330.51 L194.03,318.84 L195.44,327.61 L196.84,322.24 L198.25,324.3 L199.65,331.46 L201.05,321 L202.46,325.23 L203.86,321.26 L205.27,328.61 L206.67,321.85 L208.07,328.17 L209.48,323.74 L210.88,331.88 L212.29,317.22 L213.69,333.47 L215.1,327.04 L216.5,320.27 L216.5,362.63 L215.1,361.88 L213.69,358.25 L212.29,360.49 L210.88,360.12 L209.48,363.76 L208.07,360.9 L206.67,364.94 L205.27,358.95 L203.86,358.14 L202.46,358.33 L201.05,358.57 L199.65,361.72 L198.25,357.63 L196.84,360.29 L195.44,361.12 L194.03,358.57 L192.63,356.83 L191.23,359.95 L189.82,360.49 L188.42,359.59 L187.01,361.19 L185.61,361.28 L184.2,356.51 L182.8,360.35 Z" fill="#e4f0aa" clip-path="url(#cl5)"/><polyline points="51.4,329.23 52.79,327.23 54.17,324.86 55.56,326.53 56.94,327.28 58.33,325.48 59.72,328.37 61.1,330.74 62.49,330.35 63.88,330.18 65.26,330.78 66.65,328.21 68.03,327.02 69.42,327.27 70.81,327.76 72.19,332.38 73.58,325.24 74.97,329.92 76.35,325.94 77.74,327.27 79.12,328.4 80.51,325.76 81.9,327.81 83.28,331.18 84.67,329.04 86.06,331.92 87.44,327.94 88.83,327.82 90.21,330.53 91.6,326.92" fill="none" stroke="#1f961f" stroke-width="1.1" stroke-linejoin="round"/><polyline points="55.6,328.22 56.98,332.1 58.37,333.12 59.75,327.41 61.13,325.99 62.51,325.04 63.9,332.29 65.28,330.73 66.66,329.97 68.04,331.02 69.43,328.13 70.81,328.92 72.19,327.04 73.58,330.25 74.96,327.93 76.34,330 77.72,332.1 79.11,330.24 80.49,331.67 81.87,327.81 83.26,326.69 84.64,329.33 86.02,329.21 87.4,326.65 88.79,327.83 90.17,331.75 91.55,328.89 92.93,329.58 94.32,328.91 95.7,329.94" fill="none" stroke="#ee4b16" stroke-width="1.1" stroke-linejoin="round"/><polyline points="176,335.97 177.4,337.91 178.79,337.74 180.19,337.35 181.59,336.17 182.98,340.57 184.38,342.62 185.78,343.28 187.17,339.27 188.57,341.32 189.97,340.51 191.36,337.63 192.76,337.85 194.16,339 195.55,340.7 196.95,340.92 198.34,338.46 199.74,339.69 201.14,339.95 202.53,342.79 203.93,343.32 205.33,340.27 206.72,340.2 208.12,340.54 209.52,339.36 210.91,340.99 212.31,337.37 213.71,341.31 215.1,341.01 216.5,336.9" fill="none" stroke="#1f961f" stroke-width="1.1" stroke-linejoin="round"/><polyline points="182.8,341.05 184.2,341.54 185.61,340.36 187.01,340.4 188.42,338.24 189.82,334.91 191.23,339.76 192.63,338.86 194.03,341.16 195.44,342.94 196.84,341.55 198.25,341.69 199.65,338.22 201.05,341.79 202.46,337.69 203.86,339.01 205.27,338.36 206.67,340.26 208.07,340.53 209.48,337.73 210.88,338.79 212.29,337.51 213.69,338.68 215.1,340.98 216.5,337.87" fill="none" stroke="#ee4b16" stroke-width="1.1" stroke-linejoin="round"/><clipPath id="cl6"><path d="M51.4,434.92 L52.78,429.46 L54.17,432.54 L55.55,434.72 L56.93,430.42 L58.31,432.45 L59.7,431.57 L61.08,436.15 L62.46,431.9 L63.84,434.89 L65.23,432 L66.61,436.13 L67.99,431.73 L69.38,431.15 L70.76,433.37 L72.14,440.72 L73.52,433.61 L74.91,429.71 L76.29,430.94 L77.67,442.96 L79.06,433.77 L80.44,434.2 L81.82,435.41 L83.2,439.82 L84.59,436.86 L85.97,436.67 L87.35,435.2 L88.73,432.64 L90.12,434.96 L91.5,433.38 L91.5,481.63 L90.12,479.64 L88.73,481.29 L87.35,478.82 L85.97,481.24 L84.59,479.55 L83.2,480.2 L81.82,481.88 L80.44,482.86 L79.06,479.23 L77.67,480.55 L76.29,479.03 L74.91,480.15 L73.52,483.37 L72.14,477.8 L70.76,481.97 L69.38,480.75 L67.99,477.73 L66.61,483.07 L65.23,484.91 L63.84,480.21 L62.46,481.27 L61.08,480.35 L59.7,480.8 L58.31,484.4 L56.93,482.87 L55.55,483.06 L54.17,482.12 L52.78,477.66 L51.4,481.5 Z"/></clipPath><path d="M51.4,434.92 L52.78,429.46 L54.17,432.54 L55.55,434.72 L56.93,430.42 L58.31,432.45 L59.7,431.57 L61.08,436.15 L62.46,431.9 L63.84,434.89 L65.23,432 L66.61,436.13 L67.99,431.73 L69.38,431.15 L70.76,433.37 L72.14,440.72 L73.52,433.61 L74.91,429.71 L76.29,430.94 L77.67,442.96 L79.06,433.77 L80.44,434.2 L81.82,435.41 L83.2,439.82 L84.59,436.86 L85.97,436.67 L87.35,435.2 L88.73,432.64 L90.12,434.96 L91.5,433.38 L91.5,481.63 L90.12,479.64 L88.73,481.29 L87.35,478.82 L85.97,481.24 L84.59,479.55 L83.2,480.2 L81.82,481.88 L80.44,482.86 L79.06,479.23 L77.67,480.55 L76.29,479.03 L74.91,480.15 L73.52,483.37 L72.14,477.8 L70.76,481.97 L69.38,480.75 L67.99,477.73 L66.61,483.07 L65.23,484.91 L63.84,480.21 L62.46,481.27 L61.08,480.35 L59.7,480.8 L58.31,484.4 L56.93,482.87 L55.55,483.06 L54.17,482.12 L52.78,477.66 L51.4,481.5 Z" fill="#bff5bf"/><path d="M55,450.43 L56.4,445.73 L57.81,451.57 L59.21,451.46 L60.61,449.5 L62.02,450.6 L63.42,449.94 L64.82,446.13 L66.23,448.25 L67.63,451.37 L69.03,450.35 L70.44,447.11 L71.84,452.1 L73.24,448.25 L74.65,447.96 L76.05,447.73 L77.46,448.71 L78.86,456.04 L80.26,451.09 L81.67,454.59 L83.07,450.15 L84.47,450.6 L85.88,447.87 L87.28,452.3 L88.68,453.21 L90.09,451.28 L91.49,451.41 L92.89,450.47 L94.3,450.66 L95.7,451.78 L95.7,483.03 L94.3,486.59 L92.89,479.23 L91.49,485.92 L90.09,482.33 L88.68,485.83 L87.28,484.08 L85.88,485.43 L84.47,486.01 L83.07,483.8 L81.67,483.88 L80.26,484.48 L78.86,484.36 L77.46,484.39 L76.05,483.83 L74.65,487.7 L73.24,482.78 L71.84,483.77 L70.44,485.83 L69.03,486.23 L67.63,487.68 L66.23,486.81 L64.82,485.53 L63.42,484.61 L62.02,484.88 L60.61,485.49 L59.21,485.87 L57.81,486.36 L56.4,484.33 L55,487.83 Z" fill="#fdecb5"/><path d="M55,450.43 L56.4,445.73 L57.81,451.57 L59.21,451.46 L60.61,449.5 L62.02,450.6 L63.42,449.94 L64.82,446.13 L66.23,448.25 L67.63,451.37 L69.03,450.35 L70.44,447.11 L71.84,452.1 L73.24,448.25 L74.65,447.96 L76.05,447.73 L77.46,448.71 L78.86,456.04 L80.26,451.09 L81.67,454.59 L83.07,450.15 L84.47,450.6 L85.88,447.87 L87.28,452.3 L88.68,453.21 L90.09,451.28 L91.49,451.41 L92.89,450.47 L94.3,450.66 L95.7,451.78 L95.7,483.03 L94.3,486.59 L92.89,479.23 L91.49,485.92 L90.09,482.33 L88.68,485.83 L87.28,484.08 L85.88,485.43 L84.47,486.01 L83.07,483.8 L81.67,483.88 L80.26,484.48 L78.86,484.36 L77.46,484.39 L76.05,483.83 L74.65,487.7 L73.24,482.78 L71.84,483.77 L70.44,485.83 L69.03,486.23 L67.63,487.68 L66.23,486.81 L64.82,485.53 L63.42,484.61 L62.02,484.88 L60.61,485.49 L59.21,485.87 L57.81,486.36 L56.4,484.33 L55,487.83 Z" fill="#e4f0aa" clip-path="url(#cl6)"/><clipPath id="cl7"><path d="M175.6,440.97 L176.98,433.51 L178.37,442.18 L179.75,444.01 L181.13,443.63 L182.51,446.6 L183.9,439.61 L185.28,438.73 L186.66,440.52 L188.04,438.47 L189.43,447.6 L190.81,444.03 L192.19,433.63 L193.58,439.52 L194.96,441.89 L196.34,433.79 L197.72,444.6 L199.11,438.34 L200.49,436.18 L201.87,439.12 L203.26,436.56 L204.64,443.61 L206.02,441.72 L207.4,438.44 L208.79,437.18 L210.17,440.46 L211.55,435.76 L212.93,440.56 L214.32,437.36 L215.7,441.22 L215.7,492.47 L214.32,491.61 L212.93,490.41 L211.55,487.57 L210.17,489.04 L208.79,491.59 L207.4,488.16 L206.02,487.9 L204.64,488.98 L203.26,491.08 L201.87,489.48 L200.49,493.72 L199.11,490.97 L197.72,491.05 L196.34,492.42 L194.96,488.21 L193.58,488.02 L192.19,491.03 L190.81,490.75 L189.43,491.45 L188.04,488.84 L186.66,489.39 L185.28,490.71 L183.9,491.82 L182.51,491.12 L181.13,490.8 L179.75,490.29 L178.37,489.76 L176.98,493.94 L175.6,490.14 Z"/></clipPath><path d="M175.6,440.97 L176.98,433.51 L178.37,442.18 L179.75,444.01 L181.13,443.63 L182.51,446.6 L183.9,439.61 L185.28,438.73 L186.66,440.52 L188.04,438.47 L189.43,447.6 L190.81,444.03 L192.19,433.63 L193.58,439.52 L194.96,441.89 L196.34,433.79 L197.72,444.6 L199.11,438.34 L200.49,436.18 L201.87,439.12 L203.26,436.56 L204.64,443.61 L206.02,441.72 L207.4,438.44 L208.79,437.18 L210.17,440.46 L211.55,435.76 L212.93,440.56 L214.32,437.36 L215.7,441.22 L215.7,492.47 L214.32,491.61 L212.93,490.41 L211.55,487.57 L210.17,489.04 L208.79,491.59 L207.4,488.16 L206.02,487.9 L204.64,488.98 L203.26,491.08 L201.87,489.48 L200.49,493.72 L199.11,490.97 L197.72,491.05 L196.34,492.42 L194.96,488.21 L193.58,488.02 L192.19,491.03 L190.81,490.75 L189.43,491.45 L188.04,488.84 L186.66,489.39 L185.28,490.71 L183.9,491.82 L182.51,491.12 L181.13,490.8 L179.75,490.29 L178.37,489.76 L176.98,493.94 L175.6,490.14 Z" fill="#bff5bf"/><path d="M181.8,457.07 L183.21,453.89 L184.62,455.74 L186.04,455.29 L187.45,454.95 L188.86,454.39 L190.28,454.14 L191.69,454.99 L193.1,456.14 L194.51,456.93 L195.93,455.62 L197.34,455.25 L198.75,453.38 L200.16,452.48 L201.57,456.95 L202.99,453.44 L204.4,453.95 L205.81,453.92 L207.22,454.03 L208.64,453.48 L210.05,453.41 L211.46,455.42 L212.88,454.89 L214.29,453.66 L215.7,455.25 L215.7,496.33 L214.29,495.32 L212.88,494.67 L211.46,493.61 L210.05,494.83 L208.64,495.76 L207.22,494.03 L205.81,494.52 L204.4,493.83 L202.99,497.23 L201.57,495.42 L200.16,491.8 L198.75,493.83 L197.34,490.53 L195.93,495.46 L194.51,494.07 L193.1,493.49 L191.69,494.46 L190.28,495.61 L188.86,497.73 L187.45,495.11 L186.04,493.26 L184.62,494.52 L183.21,498 L181.8,495.8 Z" fill="#fdecb5"/><path d="M181.8,457.07 L183.21,453.89 L184.62,455.74 L186.04,455.29 L187.45,454.95 L188.86,454.39 L190.28,454.14 L191.69,454.99 L193.1,456.14 L194.51,456.93 L195.93,455.62 L197.34,455.25 L198.75,453.38 L200.16,452.48 L201.57,456.95 L202.99,453.44 L204.4,453.95 L205.81,453.92 L207.22,454.03 L208.64,453.48 L210.05,453.41 L211.46,455.42 L212.88,454.89 L214.29,453.66 L215.7,455.25 L215.7,496.33 L214.29,495.32 L212.88,494.67 L211.46,493.61 L210.05,494.83 L208.64,495.76 L207.22,494.03 L205.81,494.52 L204.4,493.83 L202.99,497.23 L201.57,495.42 L200.16,491.8 L198.75,493.83 L197.34,490.53 L195.93,495.46 L194.51,494.07 L193.1,493.49 L191.69,494.46 L190.28,495.61 L188.86,497.73 L187.45,495.11 L186.04,493.26 L184.62,494.52 L183.21,498 L181.8,495.8 Z" fill="#e4f0aa" clip-path="url(#cl7)"/><polyline points="51.4,456.69 52.78,458.64 54.17,455.72 55.55,457.84 56.93,455.48 58.31,454.54 59.7,455.09 61.08,456.08 62.46,453.86 63.84,456.09 65.23,455.39 66.61,454.01 67.99,453.14 69.38,455.24 70.76,453.91 72.14,455.77 73.52,455.75 74.91,460.21 76.29,455.15 77.67,458.29 79.06,456.46 80.44,455.99 81.82,458.04 83.2,461.68 84.59,459.16 85.97,455.32 87.35,456.2 88.73,455.59 90.12,453.38 91.5,456.19" fill="none" stroke="#1f961f" stroke-width="1.1" stroke-linejoin="round"/><polyline points="55,468.02 56.4,469.45 57.81,469.17 59.21,466.26 60.61,467.5 62.02,466.84 63.42,466.82 64.82,465.96 66.23,466.53 67.63,468.35 69.03,465.9 70.44,466.7 71.84,469.64 73.24,466.97 74.65,466.31 76.05,468.22 77.46,467.5 78.86,466.97 80.26,469.83 81.67,465.52 83.07,466.32 84.47,465.96 85.88,463.91 87.28,464.56 88.68,466.21 90.09,464.1 91.49,465.91 92.89,466.22 94.3,468.5 95.7,468" fill="none" stroke="#ee4b16" stroke-width="1.1" stroke-linejoin="round"/><polyline points="175.6,463.59 176.98,461.63 178.37,463.92 179.75,457.9 181.13,457.93 182.51,456.78 183.9,454.93 185.28,456.27 186.66,457.7 188.04,453.01 189.43,459.25 190.81,466.46 192.19,458.94 193.58,461.94 194.96,465.08 196.34,461.89 197.72,458.83 199.11,463.65 200.49,458.48 201.87,463.55 203.26,460.79 204.64,459.86 206.02,464.54 207.4,464.37 208.79,465.57 210.17,462.4 211.55,462.34 212.93,464.06 214.32,468.01 215.7,465.55" fill="none" stroke="#1f961f" stroke-width="1.1" stroke-linejoin="round"/><polyline points="181.8,471.6 183.21,476.97 184.62,477.5 186.04,476.86 187.45,471.88 188.86,478.44 190.28,472.47 191.69,475.87 193.1,473.73 194.51,472.24 195.93,469.54 197.34,475.78 198.75,471.9 200.16,470.71 201.57,474.25 202.99,476.32 204.4,476.73 205.81,475.07 207.22,470.58 208.64,473.12 210.05,468.55 211.46,473.29 212.88,475.13 214.29,474.82 215.7,471.81" fill="none" stroke="#ee4b16" stroke-width="1.1" stroke-linejoin="round"/><line x1="26.1" y1="21.7" x2="30.1" y2="21.7" stroke="#808080" stroke-width="1.0" /><text x="23.1" y="24" font-size="4.6" font-family='"Liberation Sans", sans-serif' fill="#111" text-anchor="end" textLength="7.67" lengthAdjust="spacingAndGlyphs" stroke="#222" stroke-width="0.18">600</text><line x1="26.1" y1="38.7" x2="30.1" y2="38.7" stroke="#808080" stroke-width="1.0" /><text x="23.1" y="41" font-size="4.6" font-family='"Liberation Sans", sans-serif' fill="#111" text-anchor="end" textLength="7.67" lengthAdjust="spacingAndGlyphs" stroke="#222" stroke-width="0.18">560</text><line x1="26.1" y1="55.7" x2="30.1" y2="55.7" stroke="#808080" stroke-width="1.0" /><text x="23.1" y="58" font-size="4.6" font-family='"Liberation Sans", sans-serif' fill="#111" text-anchor="end" textLength="7.67" lengthAdjust="spacingAndGlyphs" stroke="#222" stroke-width="0.18">520</text><line x1="26.1" y1="72.7" x2="30.1" y2="72.7" stroke="#808080" stroke-width="1.0" /><text x="23.1" y="75" font-size="4.6" font-family='"Liberation Sans", sans-serif' fill="#111" text-anchor="end" textLength="7.67" lengthAdjust="spacingAndGlyphs" stroke="#222" stroke-width="0.18">480</text><line x1="26.1" y1="89.7" x2="30.1" y2="89.7" stroke="#808080" stroke-width="1.0" /><text x="23.1" y="92" font-size="4.6" font-family='"Liberation Sans", sans-serif' fill="#111" text-anchor="end" textLength="7.67" lengthAdjust="spacingAndGlyphs" stroke="#222" stroke-width="0.18">440</text><line x1="26.1" y1="106.7" x2="30.1" y2="106.7" stroke="#808080" stroke-width="1.0" /><text x="23.1" y="109" font-size="4.6" font-family='"Liberation Sans", sans-serif' fill="#111" text-anchor="end" textLength="7.67" lengthAdjust="spacingAndGlyphs" stroke="#222" stroke-width="0.18">400</text><line x1="28.1" y1="17.45" x2="30.1" y2="17.45" stroke="#b0b0b0" stroke-width="0.8" /><line x1="28.1" y1="25.95" x2="30.1" y2="25.95" stroke="#b0b0b0" stroke-width="0.8" /><line x1="28.1" y1="30.2" x2="30.1" y2="30.2" stroke="#b0b0b0" stroke-width="0.8" /><line x1="28.1" y1="34.45" x2="30.1" y2="34.45" stroke="#b0b0b0" stroke-width="0.8" /><line x1="28.1" y1="42.95" x2="30.1" y2="42.95" stroke="#b0b0b0" stroke-width="0.8" /><line x1="28.1" y1="47.2" x2="30.1" y2="47.2" stroke="#b0b0b0" stroke-width="0.8" /><line x1="28.1" y1="51.45" x2="30.1" y2="51.45" stroke="#b0b0b0" stroke-width="0.8" /><line x1="28.1" y1="59.95" x2="30.1" y2="59.95" stroke="#b0b0b0" stroke-width="0.8" /><line x1="28.1" y1="64.2" x2="30.1" y2="64.2" stroke="#b0b0b0" stroke-width="0.8" /><line x1="28.1" y1="68.45" x2="30.1" y2="68.45" stroke="#b0b0b0" stroke-width="0.8" /><line x1="28.1" y1="76.95" x2="30.1" y2="76.95" stroke="#b0b0b0" stroke-width="0.8" /><line x1="28.1" y1="81.2" x2="30.1" y2="81.2" stroke="#b0b0b0" stroke-width="0.8" /><line x1="28.1" y1="85.45" x2="30.1" y2="85.45" stroke="#b0b0b0" stroke-width="0.8" /><line x1="28.1" y1="93.95" x2="30.1" y2="93.95" stroke="#b0b0b0" stroke-width="0.8" /><line x1="28.1" y1="98.2" x2="30.1" y2="98.2" stroke="#b0b0b0" stroke-width="0.8" /><line x1="28.1" y1="102.45" x2="30.1" y2="102.45" stroke="#b0b0b0" stroke-width="0.8" /><line x1="28.1" y1="110.95" x2="30.1" y2="110.95" stroke="#b0b0b0" stroke-width="0.8" /><line x1="43.7" y1="112.4" x2="43.7" y2="115.6" stroke="#808080" stroke-width="1.0" /><line x1="43.7" y1="12.3" x2="43.7" y2="15.5" stroke="#808080" stroke-width="1.0" /><text x="43.7" y="123.1" font-size="4.6" font-family='"Liberation Sans", sans-serif' fill="#111" text-anchor="middle" textLength="10.23" lengthAdjust="spacingAndGlyphs" stroke="#222" stroke-width="0.18">1970</text><line x1="85.17" y1="112.4" x2="85.17" y2="115.6" stroke="#808080" stroke-width="1.0" /><line x1="85.17" y1="12.3" x2="85.17" y2="15.5" stroke="#808080" stroke-width="1.0" /><text x="85.17" y="123.1" font-size="4.6" font-family='"Liberation Sans", sans-serif' fill="#111" text-anchor="middle" textLength="10.23" lengthAdjust="spacingAndGlyphs" stroke="#222" stroke-width="0.18">2000</text><line x1="126.65" y1="112.4" x2="126.65" y2="115.6" stroke="#808080" stroke-width="1.0" /><line x1="126.65" y1="12.3" x2="126.65" y2="15.5" stroke="#808080" stroke-width="1.0" /><text x="126.65" y="123.1" font-size="4.6" font-family='"Liberation Sans", sans-serif' fill="#111" text-anchor="middle" textLength="10.23" lengthAdjust="spacingAndGlyphs" stroke="#222" stroke-width="0.18">2030</text><line x1="168.12" y1="112.4" x2="168.12" y2="115.6" stroke="#808080" stroke-width="1.0" /><line x1="168.12" y1="12.3" x2="168.12" y2="15.5" stroke="#808080" stroke-width="1.0" /><text x="168.12" y="123.1" font-size="4.6" font-family='"Liberation Sans", sans-serif' fill="#111" text-anchor="middle" textLength="10.23" lengthAdjust="spacingAndGlyphs" stroke="#222" stroke-width="0.18">2060</text><line x1="209.6" y1="112.4" x2="209.6" y2="115.6" stroke="#808080" stroke-width="1.0" /><line x1="209.6" y1="12.3" x2="209.6" y2="15.5" stroke="#808080" stroke-width="1.0" /><text x="209.6" y="123.1" font-size="4.6" font-family='"Liberation Sans", sans-serif' fill="#111" text-anchor="middle" textLength="10.23" lengthAdjust="spacingAndGlyphs" stroke="#222" stroke-width="0.18">2090</text><text x="127.05" y="134.2" font-size="7" font-family='"Liberation Sans", sans-serif' fill="#111" text-anchor="middle" textLength="19.3" lengthAdjust="spacingAndGlyphs" stroke="#111" stroke-width="0.3">YEAR</text><text x="7.95" y="63.95" font-size="9.0" font-family='"Liberation Sans", sans-serif' fill="#111" text-anchor="middle" textLength="81.2" lengthAdjust="spacingAndGlyphs" transform="rotate(-90 7.95 63.95)" stroke="#111" stroke-width="0.3">ZON AT ONDJFM (m)</text><line x1="25.4" y1="151.6" x2="29.4" y2="151.6" stroke="#808080" stroke-width="1.0" /><text x="22.4" y="153.9" font-size="4.6" font-family='"Liberation Sans", sans-serif' fill="#111" text-anchor="end" textLength="8.33" lengthAdjust="spacingAndGlyphs" stroke="#222" stroke-width="0.18">1.60</text><line x1="25.4" y1="173.45" x2="29.4" y2="173.45" stroke="#808080" stroke-width="1.0" /><text x="22.4" y="175.75" font-size="4.6" font-family='"Liberation Sans", sans-serif' fill="#111" text-anchor="end" textLength="8.33" lengthAdjust="spacingAndGlyphs" stroke="#222" stroke-width="0.18">1.50</text><line x1="25.4" y1="195.3" x2="29.4" y2="195.3" stroke="#808080" stroke-width="1.0" /><text x="22.4" y="197.6" font-size="4.6" font-family='"Liberation Sans", sans-serif' fill="#111" text-anchor="end" textLength="8.33" lengthAdjust="spacingAndGlyphs" stroke="#222" stroke-width="0.18">1.40</text><line x1="25.4" y1="217.15" x2="29.4" y2="217.15" stroke="#808080" stroke-width="1.0" /><text x="22.4" y="219.45" font-size="4.6" font-family='"Liberation Sans", sans-serif' fill="#111" text-anchor="end" textLength="8.33" lengthAdjust="spacingAndGlyphs" stroke="#222" stroke-width="0.18">1.30</text><line x1="25.4" y1="239" x2="29.4" y2="239" stroke="#808080" stroke-width="1.0" /><text x="22.4" y="241.3" font-size="4.6" font-family='"Liberation Sans", sans-serif' fill="#111" text-anchor="end" textLength="8.33" lengthAdjust="spacingAndGlyphs" stroke="#222" stroke-width="0.18">1.20</text><line x1="27.4" y1="155.97" x2="29.4" y2="155.97" stroke="#b0b0b0" stroke-width="0.8" /><line x1="27.4" y1="160.34" x2="29.4" y2="160.34" stroke="#b0b0b0" stroke-width="0.8" /><line x1="27.4" y1="164.71" x2="29.4" y2="164.71" stroke="#b0b0b0" stroke-width="0.8" /><line x1="27.4" y1="169.08" x2="29.4" y2="169.08" stroke="#b0b0b0" stroke-width="0.8" /><line x1="27.4" y1="177.82" x2="29.4" y2="177.82" stroke="#b0b0b0" stroke-width="0.8" /><line x1="27.4" y1="182.19" x2="29.4" y2="182.19" stroke="#b0b0b0" stroke-width="0.8" /><line x1="27.4" y1="186.56" x2="29.4" y2="186.56" stroke="#b0b0b0" stroke-width="0.8" /><line x1="27.4" y1="190.93" x2="29.4" y2="190.93" stroke="#b0b0b0" stroke-width="0.8" /><line x1="27.4" y1="199.67" x2="29.4" y2="199.67" stroke="#b0b0b0" stroke-width="0.8" /><line x1="27.4" y1="204.04" x2="29.4" y2="204.04" stroke="#b0b0b0" stroke-width="0.8" /><line x1="27.4" y1="208.41" x2="29.4" y2="208.41" stroke="#b0b0b0" stroke-width="0.8" /><line x1="27.4" y1="212.78" x2="29.4" y2="212.78" stroke="#b0b0b0" stroke-width="0.8" /><line x1="27.4" y1="221.52" x2="29.4" y2="221.52" stroke="#b0b0b0" stroke-width="0.8" /><line x1="27.4" y1="225.89" x2="29.4" y2="225.89" stroke="#b0b0b0" stroke-width="0.8" /><line x1="27.4" y1="230.26" x2="29.4" y2="230.26" stroke="#b0b0b0" stroke-width="0.8" /><line x1="27.4" y1="234.63" x2="29.4" y2="234.63" stroke="#b0b0b0" stroke-width="0.8" /><line x1="27.4" y1="243.37" x2="29.4" y2="243.37" stroke="#b0b0b0" stroke-width="0.8" /><line x1="43.4" y1="245.5" x2="43.4" y2="248.7" stroke="#808080" stroke-width="1.0" /><line x1="43.4" y1="145.7" x2="43.4" y2="148.9" stroke="#808080" stroke-width="1.0" /><text x="43.4" y="256.2" font-size="4.6" font-family='"Liberation Sans", sans-serif' fill="#111" text-anchor="middle" textLength="10.23" lengthAdjust="spacingAndGlyphs" stroke="#222" stroke-width="0.18">1970</text><line x1="84.7" y1="245.5" x2="84.7" y2="248.7" stroke="#808080" stroke-width="1.0" /><line x1="84.7" y1="145.7" x2="84.7" y2="148.9" stroke="#808080" stroke-width="1.0" /><text x="84.7" y="256.2" font-size="4.6" font-family='"Liberation Sans", sans-serif' fill="#111" text-anchor="middle" textLength="10.23" lengthAdjust="spacingAndGlyphs" stroke="#222" stroke-width="0.18">2000</text><line x1="126" y1="245.5" x2="126" y2="248.7" stroke="#808080" stroke-width="1.0" /><line x1="126" y1="145.7" x2="126" y2="148.9" stroke="#808080" stroke-width="1.0" /><text x="126" y="256.2" font-size="4.6" font-family='"Liberation Sans", sans-serif' fill="#111" text-anchor="middle" textLength="10.23" lengthAdjust="spacingAndGlyphs" stroke="#222" stroke-width="0.18">2030</text><line x1="167.3" y1="245.5" x2="167.3" y2="248.7" stroke="#808080" stroke-width="1.0" /><line x1="167.3" y1="145.7" x2="167.3" y2="148.9" stroke="#808080" stroke-width="1.0" /><text x="167.3" y="256.2" font-size="4.6" font-family='"Liberation Sans", sans-serif' fill="#111" text-anchor="middle" textLength="10.23" lengthAdjust="spacingAndGlyphs" stroke="#222" stroke-width="0.18">2060</text><line x1="208.6" y1="245.5" x2="208.6" y2="248.7" stroke="#808080" stroke-width="1.0" /><line x1="208.6" y1="145.7" x2="208.6" y2="148.9" stroke="#808080" stroke-width="1.0" /><text x="208.6" y="256.2" font-size="4.6" font-family='"Liberation Sans", sans-serif' fill="#111" text-anchor="middle" textLength="10.23" lengthAdjust="spacingAndGlyphs" stroke="#222" stroke-width="0.18">2090</text><text x="126.5" y="267.3" font-size="7" font-family='"Liberation Sans", sans-serif' fill="#111" text-anchor="middle" textLength="19.3" lengthAdjust="spacingAndGlyphs" stroke="#111" stroke-width="0.3">YEAR</text><text x="7.25" y="197.2" font-size="9.0" font-family='"Liberation Sans", sans-serif' fill="#111" text-anchor="middle" textLength="85" lengthAdjust="spacingAndGlyphs" transform="rotate(-90 7.25 197.2)" stroke="#111" stroke-width="0.3">SIN AT ONDJFM (ratio)</text><line x1="25.4" y1="286.3" x2="29.4" y2="286.3" stroke="#808080" stroke-width="1.0" /><text x="22.4" y="288.6" font-size="4.6" font-family='"Liberation Sans", sans-serif' fill="#111" text-anchor="end" textLength="5.12" lengthAdjust="spacingAndGlyphs" stroke="#222" stroke-width="0.18">18</text><line x1="25.4" y1="302" x2="29.4" y2="302" stroke="#808080" stroke-width="1.0" /><text x="22.4" y="304.3" font-size="4.6" font-family='"Liberation Sans", sans-serif' fill="#111" text-anchor="end" textLength="5.12" lengthAdjust="spacingAndGlyphs" stroke="#222" stroke-width="0.18">15</text><line x1="25.4" y1="317.7" x2="29.4" y2="317.7" stroke="#808080" stroke-width="1.0" /><text x="22.4" y="320" font-size="4.6" font-family='"Liberation Sans", sans-serif' fill="#111" text-anchor="end" textLength="5.12" lengthAdjust="spacingAndGlyphs" stroke="#222" stroke-width="0.18">12</text><line x1="25.4" y1="333.4" x2="29.4" y2="333.4" stroke="#808080" stroke-width="1.0" /><text x="22.4" y="335.7" font-size="4.6" font-family='"Liberation Sans", sans-serif' fill="#111" text-anchor="end" textLength="2.56" lengthAdjust="spacingAndGlyphs" stroke="#222" stroke-width="0.18">9</text><line x1="25.4" y1="349.1" x2="29.4" y2="349.1" stroke="#808080" stroke-width="1.0" /><text x="22.4" y="351.4" font-size="4.6" font-family='"Liberation Sans", sans-serif' fill="#111" text-anchor="end" textLength="2.56" lengthAdjust="spacingAndGlyphs" stroke="#222" stroke-width="0.18">6</text><line x1="25.4" y1="364.8" x2="29.4" y2="364.8" stroke="#808080" stroke-width="1.0" /><text x="22.4" y="367.1" font-size="4.6" font-family='"Liberation Sans", sans-serif' fill="#111" text-anchor="end" textLength="2.56" lengthAdjust="spacingAndGlyphs" stroke="#222" stroke-width="0.18">3</text><line x1="27.4" y1="291.53" x2="29.4" y2="291.53" stroke="#b0b0b0" stroke-width="0.8" /><line x1="27.4" y1="296.77" x2="29.4" y2="296.77" stroke="#b0b0b0" stroke-width="0.8" /><line x1="27.4" y1="307.23" x2="29.4" y2="307.23" stroke="#b0b0b0" stroke-width="0.8" /><line x1="27.4" y1="312.47" x2="29.4" y2="312.47" stroke="#b0b0b0" stroke-width="0.8" /><line x1="27.4" y1="322.93" x2="29.4" y2="322.93" stroke="#b0b0b0" stroke-width="0.8" /><line x1="27.4" y1="328.16" x2="29.4" y2="328.16" stroke="#b0b0b0" stroke-width="0.8" /><line x1="27.4" y1="338.63" x2="29.4" y2="338.63" stroke="#b0b0b0" stroke-width="0.8" /><line x1="27.4" y1="343.86" x2="29.4" y2="343.86" stroke="#b0b0b0" stroke-width="0.8" /><line x1="27.4" y1="354.33" x2="29.4" y2="354.33" stroke="#b0b0b0" stroke-width="0.8" /><line x1="27.4" y1="359.56" x2="29.4" y2="359.56" stroke="#b0b0b0" stroke-width="0.8" /><line x1="27.4" y1="370.03" x2="29.4" y2="370.03" stroke="#b0b0b0" stroke-width="0.8" /><line x1="27.4" y1="375.26" x2="29.4" y2="375.26" stroke="#b0b0b0" stroke-width="0.8" /><line x1="43.5" y1="379.2" x2="43.5" y2="382.4" stroke="#808080" stroke-width="1.0" /><line x1="43.5" y1="279.1" x2="43.5" y2="282.3" stroke="#808080" stroke-width="1.0" /><text x="43.5" y="389.9" font-size="4.6" font-family='"Liberation Sans", sans-serif' fill="#111" text-anchor="middle" textLength="10.23" lengthAdjust="spacingAndGlyphs" stroke="#222" stroke-width="0.18">1970</text><line x1="84.92" y1="379.2" x2="84.92" y2="382.4" stroke="#808080" stroke-width="1.0" /><line x1="84.92" y1="279.1" x2="84.92" y2="282.3" stroke="#808080" stroke-width="1.0" /><text x="84.92" y="389.9" font-size="4.6" font-family='"Liberation Sans", sans-serif' fill="#111" text-anchor="middle" textLength="10.23" lengthAdjust="spacingAndGlyphs" stroke="#222" stroke-width="0.18">2000</text><line x1="126.35" y1="379.2" x2="126.35" y2="382.4" stroke="#808080" stroke-width="1.0" /><line x1="126.35" y1="279.1" x2="126.35" y2="282.3" stroke="#808080" stroke-width="1.0" /><text x="126.35" y="389.9" font-size="4.6" font-family='"Liberation Sans", sans-serif' fill="#111" text-anchor="middle" textLength="10.23" lengthAdjust="spacingAndGlyphs" stroke="#222" stroke-width="0.18">2030</text><line x1="167.77" y1="379.2" x2="167.77" y2="382.4" stroke="#808080" stroke-width="1.0" /><line x1="167.77" y1="279.1" x2="167.77" y2="282.3" stroke="#808080" stroke-width="1.0" /><text x="167.77" y="389.9" font-size="4.6" font-family='"Liberation Sans", sans-serif' fill="#111" text-anchor="middle" textLength="10.23" lengthAdjust="spacingAndGlyphs" stroke="#222" stroke-width="0.18">2060</text><line x1="209.2" y1="379.2" x2="209.2" y2="382.4" stroke="#808080" stroke-width="1.0" /><line x1="209.2" y1="279.1" x2="209.2" y2="282.3" stroke="#808080" stroke-width="1.0" /><text x="209.2" y="389.9" font-size="4.6" font-family='"Liberation Sans", sans-serif' fill="#111" text-anchor="middle" textLength="10.23" lengthAdjust="spacingAndGlyphs" stroke="#222" stroke-width="0.18">2090</text><text x="126.55" y="401" font-size="7" font-family='"Liberation Sans", sans-serif' fill="#111" text-anchor="middle" textLength="19.3" lengthAdjust="spacingAndGlyphs" stroke="#111" stroke-width="0.3">YEAR</text><text x="10.6" y="330.75" font-size="9.0" font-family='"Liberation Sans", sans-serif' fill="#111" text-anchor="middle" textLength="119.4" lengthAdjust="spacingAndGlyphs" transform="rotate(-90 10.6 330.75)" stroke="#111" stroke-width="0.3">BLO AT ONDJFM (% area-days)</text><line x1="25.35" y1="418.8" x2="29.35" y2="418.8" stroke="#808080" stroke-width="1.0" /><text x="22.35" y="421.1" font-size="4.6" font-family='"Liberation Sans", sans-serif' fill="#111" text-anchor="end" textLength="8.33" lengthAdjust="spacingAndGlyphs" stroke="#222" stroke-width="0.18">36.0</text><line x1="25.35" y1="438.9" x2="29.35" y2="438.9" stroke="#808080" stroke-width="1.0" /><text x="22.35" y="441.2" font-size="4.6" font-family='"Liberation Sans", sans-serif' fill="#111" text-anchor="end" textLength="8.33" lengthAdjust="spacingAndGlyphs" stroke="#222" stroke-width="0.18">33.0</text><line x1="25.35" y1="459" x2="29.35" y2="459" stroke="#808080" stroke-width="1.0" /><text x="22.35" y="461.3" font-size="4.6" font-family='"Liberation Sans", sans-serif' fill="#111" text-anchor="end" textLength="8.33" lengthAdjust="spacingAndGlyphs" stroke="#222" stroke-width="0.18">30.0</text><line x1="25.35" y1="479.1" x2="29.35" y2="479.1" stroke="#808080" stroke-width="1.0" /><text x="22.35" y="481.4" font-size="4.6" font-family='"Liberation Sans", sans-serif' fill="#111" text-anchor="end" textLength="8.33" lengthAdjust="spacingAndGlyphs" stroke="#222" stroke-width="0.18">27.0</text><line x1="25.35" y1="499.2" x2="29.35" y2="499.2" stroke="#808080" stroke-width="1.0" /><text x="22.35" y="501.5" font-size="4.6" font-family='"Liberation Sans", sans-serif' fill="#111" text-anchor="end" textLength="8.33" lengthAdjust="spacingAndGlyphs" stroke="#222" stroke-width="0.18">24.0</text><line x1="27.35" y1="425.5" x2="29.35" y2="425.5" stroke="#b0b0b0" stroke-width="0.8" /><line x1="27.35" y1="432.2" x2="29.35" y2="432.2" stroke="#b0b0b0" stroke-width="0.8" /><line x1="27.35" y1="445.6" x2="29.35" y2="445.6" stroke="#b0b0b0" stroke-width="0.8" /><line x1="27.35" y1="452.3" x2="29.35" y2="452.3" stroke="#b0b0b0" stroke-width="0.8" /><line x1="27.35" y1="465.7" x2="29.35" y2="465.7" stroke="#b0b0b0" stroke-width="0.8" /><line x1="27.35" y1="472.4" x2="29.35" y2="472.4" stroke="#b0b0b0" stroke-width="0.8" /><line x1="27.35" y1="485.8" x2="29.35" y2="485.8" stroke="#b0b0b0" stroke-width="0.8" /><line x1="27.35" y1="492.5" x2="29.35" y2="492.5" stroke="#b0b0b0" stroke-width="0.8" /><line x1="27.35" y1="505.9" x2="29.35" y2="505.9" stroke="#b0b0b0" stroke-width="0.8" /><line x1="43.3" y1="511.8" x2="43.3" y2="515" stroke="#808080" stroke-width="1.0" /><line x1="43.3" y1="412.3" x2="43.3" y2="415.5" stroke="#808080" stroke-width="1.0" /><text x="43.3" y="522.5" font-size="4.6" font-family='"Liberation Sans", sans-serif' fill="#111" text-anchor="middle" textLength="10.23" lengthAdjust="spacingAndGlyphs" stroke="#222" stroke-width="0.18">1970</text><line x1="84.52" y1="511.8" x2="84.52" y2="515" stroke="#808080" stroke-width="1.0" /><line x1="84.52" y1="412.3" x2="84.52" y2="415.5" stroke="#808080" stroke-width="1.0" /><text x="84.52" y="522.5" font-size="4.6" font-family='"Liberation Sans", sans-serif' fill="#111" text-anchor="middle" textLength="10.23" lengthAdjust="spacingAndGlyphs" stroke="#222" stroke-width="0.18">2000</text><line x1="125.75" y1="511.8" x2="125.75" y2="515" stroke="#808080" stroke-width="1.0" /><line x1="125.75" y1="412.3" x2="125.75" y2="415.5" stroke="#808080" stroke-width="1.0" /><text x="125.75" y="522.5" font-size="4.6" font-family='"Liberation Sans", sans-serif' fill="#111" text-anchor="middle" textLength="10.23" lengthAdjust="spacingAndGlyphs" stroke="#222" stroke-width="0.18">2030</text><line x1="166.97" y1="511.8" x2="166.97" y2="515" stroke="#808080" stroke-width="1.0" /><line x1="166.97" y1="412.3" x2="166.97" y2="415.5" stroke="#808080" stroke-width="1.0" /><text x="166.97" y="522.5" font-size="4.6" font-family='"Liberation Sans", sans-serif' fill="#111" text-anchor="middle" textLength="10.23" lengthAdjust="spacingAndGlyphs" stroke="#222" stroke-width="0.18">2060</text><line x1="208.2" y1="511.8" x2="208.2" y2="515" stroke="#808080" stroke-width="1.0" /><line x1="208.2" y1="412.3" x2="208.2" y2="415.5" stroke="#808080" stroke-width="1.0" /><text x="208.2" y="522.5" font-size="4.6" font-family='"Liberation Sans", sans-serif' fill="#111" text-anchor="middle" textLength="10.23" lengthAdjust="spacingAndGlyphs" stroke="#222" stroke-width="0.18">2090</text><text x="126.07" y="533.6" font-size="7" font-family='"Liberation Sans", sans-serif' fill="#111" text-anchor="middle" textLength="19.3" lengthAdjust="spacingAndGlyphs" stroke="#111" stroke-width="0.3">YEAR</text><text x="6.85" y="463.65" font-size="9.0" font-family='"Liberation Sans", sans-serif' fill="#111" text-anchor="middle" textLength="96.3" lengthAdjust="spacingAndGlyphs" transform="rotate(-90 6.85 463.65)" stroke="#111" stroke-width="0.3">JWI AT ONDJFM (deg-lat)</text><line x1="223.4" y1="79.45" x2="320" y2="79.45" stroke="#999" stroke-width="0.8" /><rect x="241.5" y="63.9" width="20.4" height="15.55" fill="#ff0000"/><rect x="281.9" y="69.1" width="20.4" height="10.35" fill="#ff0000"/><line x1="251.7" y1="31.8" x2="251.7" y2="96.4" stroke="rgba(0,0,0,0.22)" stroke-width="0.9" /><line x1="247.6" y1="31.8" x2="255.8" y2="31.8" stroke="rgba(0,0,0,0.33)" stroke-width="0.9" /><line x1="247.6" y1="96.4" x2="255.8" y2="96.4" stroke="rgba(0,0,0,0.33)" stroke-width="0.9" /><line x1="292.1" y1="58.4" x2="292.1" y2="79.9" stroke="rgba(0,0,0,0.22)" stroke-width="0.9" /><line x1="288" y1="58.4" x2="296.2" y2="58.4" stroke="rgba(0,0,0,0.33)" stroke-width="0.9" /><line x1="288" y1="79.9" x2="296.2" y2="79.9" stroke="rgba(0,0,0,0.33)" stroke-width="0.9" /><g stroke="#000" stroke-width="1.0"><path d="M288,65.4 V69.4 M285.8,66.1 L290.2,68.7 M285.8,68.7 L290.2,66.1"/></g><circle cx="288" cy="67.4" r="0.9" fill="#000"/><line x1="320" y1="27.25" x2="323.6" y2="27.25" stroke="#808080" stroke-width="1.0" /><text x="326.6" y="29.5" font-size="4.6" font-family='"Liberation Sans", sans-serif' fill="#111" text-anchor="start" textLength="6.71" lengthAdjust="spacingAndGlyphs" stroke="#222" stroke-width="0.18">1.2</text><line x1="320" y1="44.65" x2="323.6" y2="44.65" stroke="#808080" stroke-width="1.0" /><text x="326.6" y="46.9" font-size="4.6" font-family='"Liberation Sans", sans-serif' fill="#111" text-anchor="start" textLength="6.71" lengthAdjust="spacingAndGlyphs" stroke="#222" stroke-width="0.18">0.8</text><line x1="320" y1="62.05" x2="323.6" y2="62.05" stroke="#808080" stroke-width="1.0" /><text x="326.6" y="64.3" font-size="4.6" font-family='"Liberation Sans", sans-serif' fill="#111" text-anchor="start" textLength="6.71" lengthAdjust="spacingAndGlyphs" stroke="#222" stroke-width="0.18">0.4</text><line x1="320" y1="79.45" x2="323.6" y2="79.45" stroke="#808080" stroke-width="1.0" /><text x="326.6" y="81.7" font-size="4.6" font-family='"Liberation Sans", sans-serif' fill="#111" text-anchor="start" textLength="6.71" lengthAdjust="spacingAndGlyphs" stroke="#222" stroke-width="0.18">0.0</text><line x1="320" y1="96.85" x2="323.6" y2="96.85" stroke="#808080" stroke-width="1.0" /><text x="326.6" y="99.1" font-size="4.6" font-family='"Liberation Sans", sans-serif' fill="#111" text-anchor="start" textLength="8.32" lengthAdjust="spacingAndGlyphs" stroke="#222" stroke-width="0.18">-0.4</text><line x1="320" y1="109.9" x2="322" y2="109.9" stroke="#b0b0b0" stroke-width="0.8" /><line x1="320" y1="105.55" x2="322" y2="105.55" stroke="#b0b0b0" stroke-width="0.8" /><line x1="320" y1="101.2" x2="322" y2="101.2" stroke="#b0b0b0" stroke-width="0.8" /><line x1="320" y1="92.5" x2="322" y2="92.5" stroke="#b0b0b0" stroke-width="0.8" /><line x1="320" y1="88.15" x2="322" y2="88.15" stroke="#b0b0b0" stroke-width="0.8" /><line x1="320" y1="83.8" x2="322" y2="83.8" stroke="#b0b0b0" stroke-width="0.8" /><line x1="320" y1="75.1" x2="322" y2="75.1" stroke="#b0b0b0" stroke-width="0.8" /><line x1="320" y1="70.75" x2="322" y2="70.75" stroke="#b0b0b0" stroke-width="0.8" /><line x1="320" y1="66.4" x2="322" y2="66.4" stroke="#b0b0b0" stroke-width="0.8" /><line x1="320" y1="57.7" x2="322" y2="57.7" stroke="#b0b0b0" stroke-width="0.8" /><line x1="320" y1="53.35" x2="322" y2="53.35" stroke="#b0b0b0" stroke-width="0.8" /><line x1="320" y1="49" x2="322" y2="49" stroke="#b0b0b0" stroke-width="0.8" /><line x1="320" y1="40.3" x2="322" y2="40.3" stroke="#b0b0b0" stroke-width="0.8" /><line x1="320" y1="35.95" x2="322" y2="35.95" stroke="#b0b0b0" stroke-width="0.8" /><line x1="320" y1="31.6" x2="322" y2="31.6" stroke="#b0b0b0" stroke-width="0.8" /><line x1="320" y1="22.9" x2="322" y2="22.9" stroke="#b0b0b0" stroke-width="0.8" /><line x1="320" y1="18.55" x2="322" y2="18.55" stroke="#b0b0b0" stroke-width="0.8" /><line x1="251.7" y1="112.4" x2="251.7" y2="115.7" stroke="#808080" stroke-width="1.0" /><line x1="251.7" y1="12.2" x2="251.7" y2="15.5" stroke="#808080" stroke-width="1.0" /><text x="251.7" y="123.4" font-size="4.6" font-family='"Liberation Sans", sans-serif' fill="#111" text-anchor="middle" textLength="14.76" lengthAdjust="spacingAndGlyphs" stroke="#222" stroke-width="0.18">CMIP5</text><line x1="292.1" y1="112.4" x2="292.1" y2="115.7" stroke="#808080" stroke-width="1.0" /><line x1="292.1" y1="12.2" x2="292.1" y2="15.5" stroke="#808080" stroke-width="1.0" /><text x="292.1" y="123.4" font-size="4.6" font-family='"Liberation Sans", sans-serif' fill="#111" text-anchor="middle" textLength="12.62" lengthAdjust="spacingAndGlyphs" stroke="#222" stroke-width="0.18">LENS</text><text x="240.6" y="4.4" font-size="6.1" font-family='"Liberation Sans", sans-serif' fill="#111" text-anchor="start" textLength="61.4" lengthAdjust="spacingAndGlyphs" >2066-2095 vs 1976-2005</text><text x="259" y="10.8" font-size="6.1" font-family='"Liberation Sans", sans-serif' fill="#111" text-anchor="start" textLength="27.6" lengthAdjust="spacingAndGlyphs" >(in std dev)</text><line x1="223" y1="157.1" x2="319.7" y2="157.1" stroke="#999" stroke-width="0.8" /><rect x="241.1" y="157.1" width="20.4" height="40.8" fill="#0000ff"/><rect x="281.5" y="157.1" width="20.4" height="31.3" fill="#0000ff"/><line x1="251.3" y1="165.4" x2="251.3" y2="229.7" stroke="rgba(0,0,0,0.22)" stroke-width="0.9" /><line x1="247.2" y1="165.4" x2="255.4" y2="165.4" stroke="rgba(0,0,0,0.33)" stroke-width="0.9" /><line x1="247.2" y1="229.7" x2="255.4" y2="229.7" stroke="rgba(0,0,0,0.33)" stroke-width="0.9" /><line x1="291.7" y1="166.6" x2="291.7" y2="210.2" stroke="rgba(0,0,0,0.22)" stroke-width="0.9" /><line x1="287.6" y1="166.6" x2="295.8" y2="166.6" stroke="rgba(0,0,0,0.33)" stroke-width="0.9" /><line x1="287.6" y1="210.2" x2="295.8" y2="210.2" stroke="rgba(0,0,0,0.33)" stroke-width="0.9" /><g stroke="#000" stroke-width="1.0"><path d="M247.1,202.3 V206.3 M244.9,203 L249.3,205.6 M244.9,205.6 L249.3,203"/></g><circle cx="247.1" cy="204.3" r="0.9" fill="#000"/><g stroke="#000" stroke-width="1.0"><path d="M287.3,191.4 V195.4 M285.1,192.1 L289.5,194.7 M285.1,194.7 L289.5,192.1"/></g><circle cx="287.3" cy="193.4" r="0.9" fill="#000"/><line x1="319.7" y1="157.1" x2="323.3" y2="157.1" stroke="#808080" stroke-width="1.0" /><text x="326.3" y="159.35" font-size="4.6" font-family='"Liberation Sans", sans-serif' fill="#111" text-anchor="start" textLength="2.69" lengthAdjust="spacingAndGlyphs" stroke="#222" stroke-width="0.18">0</text><line x1="319.7" y1="174.7" x2="323.3" y2="174.7" stroke="#808080" stroke-width="1.0" /><text x="326.3" y="176.95" font-size="4.6" font-family='"Liberation Sans", sans-serif' fill="#111" text-anchor="start" textLength="4.29" lengthAdjust="spacingAndGlyphs" stroke="#222" stroke-width="0.18">-5</text><line x1="319.7" y1="192.3" x2="323.3" y2="192.3" stroke="#808080" stroke-width="1.0" /><text x="326.3" y="194.55" font-size="4.6" font-family='"Liberation Sans", sans-serif' fill="#111" text-anchor="start" textLength="6.98" lengthAdjust="spacingAndGlyphs" stroke="#222" stroke-width="0.18">-10</text><line x1="319.7" y1="209.9" x2="323.3" y2="209.9" stroke="#808080" stroke-width="1.0" /><text x="326.3" y="212.15" font-size="4.6" font-family='"Liberation Sans", sans-serif' fill="#111" text-anchor="start" textLength="6.98" lengthAdjust="spacingAndGlyphs" stroke="#222" stroke-width="0.18">-15</text><line x1="319.7" y1="227.5" x2="323.3" y2="227.5" stroke="#808080" stroke-width="1.0" /><text x="326.3" y="229.75" font-size="4.6" font-family='"Liberation Sans", sans-serif' fill="#111" text-anchor="start" textLength="6.98" lengthAdjust="spacingAndGlyphs" stroke="#222" stroke-width="0.18">-20</text><line x1="319.7" y1="245.1" x2="323.3" y2="245.1" stroke="#808080" stroke-width="1.0" /><text x="326.3" y="247.35" font-size="4.6" font-family='"Liberation Sans", sans-serif' fill="#111" text-anchor="start" textLength="6.98" lengthAdjust="spacingAndGlyphs" stroke="#222" stroke-width="0.18">-25</text><line x1="319.7" y1="150.06" x2="321.7" y2="150.06" stroke="#b0b0b0" stroke-width="0.8" /><line x1="319.7" y1="153.58" x2="321.7" y2="153.58" stroke="#b0b0b0" stroke-width="0.8" /><line x1="319.7" y1="160.62" x2="321.7" y2="160.62" stroke="#b0b0b0" stroke-width="0.8" /><line x1="319.7" y1="164.14" x2="321.7" y2="164.14" stroke="#b0b0b0" stroke-width="0.8" /><line x1="319.7" y1="167.66" x2="321.7" y2="167.66" stroke="#b0b0b0" stroke-width="0.8" /><line x1="319.7" y1="171.18" x2="321.7" y2="171.18" stroke="#b0b0b0" stroke-width="0.8" /><line x1="319.7" y1="178.22" x2="321.7" y2="178.22" stroke="#b0b0b0" stroke-width="0.8" /><line x1="319.7" y1="181.74" x2="321.7" y2="181.74" stroke="#b0b0b0" stroke-width="0.8" /><line x1="319.7" y1="185.26" x2="321.7" y2="185.26" stroke="#b0b0b0" stroke-width="0.8" /><line x1="319.7" y1="188.78" x2="321.7" y2="188.78" stroke="#b0b0b0" stroke-width="0.8" /><line x1="319.7" y1="195.82" x2="321.7" y2="195.82" stroke="#b0b0b0" stroke-width="0.8" /><line x1="319.7" y1="199.34" x2="321.7" y2="199.34" stroke="#b0b0b0" stroke-width="0.8" /><line x1="319.7" y1="202.86" x2="321.7" y2="202.86" stroke="#b0b0b0" stroke-width="0.8" /><line x1="319.7" y1="206.38" x2="321.7" y2="206.38" stroke="#b0b0b0" stroke-width="0.8" /><line x1="319.7" y1="213.42" x2="321.7" y2="213.42" stroke="#b0b0b0" stroke-width="0.8" /><line x1="319.7" y1="216.94" x2="321.7" y2="216.94" stroke="#b0b0b0" stroke-width="0.8" /><line x1="319.7" y1="220.46" x2="321.7" y2="220.46" stroke="#b0b0b0" stroke-width="0.8" /><line x1="319.7" y1="223.98" x2="321.7" y2="223.98" stroke="#b0b0b0" stroke-width="0.8" /><line x1="319.7" y1="231.02" x2="321.7" y2="231.02" stroke="#b0b0b0" stroke-width="0.8" /><line x1="319.7" y1="234.54" x2="321.7" y2="234.54" stroke="#b0b0b0" stroke-width="0.8" /><line x1="319.7" y1="238.06" x2="321.7" y2="238.06" stroke="#b0b0b0" stroke-width="0.8" /><line x1="319.7" y1="241.58" x2="321.7" y2="241.58" stroke="#b0b0b0" stroke-width="0.8" /><line x1="251.3" y1="245.5" x2="251.3" y2="248.8" stroke="#808080" stroke-width="1.0" /><line x1="251.3" y1="145.6" x2="251.3" y2="148.9" stroke="#808080" stroke-width="1.0" /><text x="251.3" y="256.5" font-size="4.6" font-family='"Liberation Sans", sans-serif' fill="#111" text-anchor="middle" textLength="14.76" lengthAdjust="spacingAndGlyphs" stroke="#222" stroke-width="0.18">CMIP5</text><line x1="291.7" y1="245.5" x2="291.7" y2="248.8" stroke="#808080" stroke-width="1.0" /><line x1="291.7" y1="145.6" x2="291.7" y2="148.9" stroke="#808080" stroke-width="1.0" /><text x="291.7" y="256.5" font-size="4.6" font-family='"Liberation Sans", sans-serif' fill="#111" text-anchor="middle" textLength="12.62" lengthAdjust="spacingAndGlyphs" stroke="#222" stroke-width="0.18">LENS</text><text x="240.2" y="138" font-size="6.1" font-family='"Liberation Sans", sans-serif' fill="#111" text-anchor="start" textLength="61.4" lengthAdjust="spacingAndGlyphs" >2066-2095 vs 1976-2005</text><text x="258.6" y="143.8" font-size="6.1" font-family='"Liberation Sans", sans-serif' fill="#111" text-anchor="start" textLength="32.6" lengthAdjust="spacingAndGlyphs" >(in % change)</text><rect x="241.2" y="282.4" width="20.4" height="43.5" fill="#0000ff"/><rect x="281.6" y="282.4" width="20.4" height="53.6" fill="#0000ff"/><line x1="251.4" y1="297" x2="251.4" y2="354.9" stroke="rgba(0,0,0,0.22)" stroke-width="0.9" /><line x1="247.3" y1="297" x2="255.5" y2="297" stroke="rgba(0,0,0,0.33)" stroke-width="0.9" /><line x1="247.3" y1="354.9" x2="255.5" y2="354.9" stroke="rgba(0,0,0,0.33)" stroke-width="0.9" /><line x1="291.8" y1="314.6" x2="291.8" y2="357" stroke="rgba(0,0,0,0.22)" stroke-width="0.9" /><line x1="287.7" y1="314.6" x2="295.9" y2="314.6" stroke="rgba(0,0,0,0.33)" stroke-width="0.9" /><line x1="287.7" y1="357" x2="295.9" y2="357" stroke="rgba(0,0,0,0.33)" stroke-width="0.9" /><g stroke="#000" stroke-width="1.0"><path d="M247.1,331.5 V335.5 M244.9,332.2 L249.3,334.8 M244.9,334.8 L249.3,332.2"/></g><circle cx="247.1" cy="333.5" r="0.9" fill="#000"/><g stroke="#000" stroke-width="1.0"><path d="M287.4,342.9 V346.9 M285.2,343.6 L289.6,346.2 M285.2,346.2 L289.6,343.6"/></g><circle cx="287.4" cy="344.9" r="0.9" fill="#000"/><line x1="319.7" y1="305.7" x2="323.3" y2="305.7" stroke="#808080" stroke-width="1.0" /><text x="326.3" y="307.95" font-size="4.6" font-family='"Liberation Sans", sans-serif' fill="#111" text-anchor="start" textLength="11.01" lengthAdjust="spacingAndGlyphs" stroke="#222" stroke-width="0.18">-10.0</text><line x1="319.7" y1="329" x2="323.3" y2="329" stroke="#808080" stroke-width="1.0" /><text x="326.3" y="331.25" font-size="4.6" font-family='"Liberation Sans", sans-serif' fill="#111" text-anchor="start" textLength="11.01" lengthAdjust="spacingAndGlyphs" stroke="#222" stroke-width="0.18">-20.0</text><line x1="319.7" y1="352.3" x2="323.3" y2="352.3" stroke="#808080" stroke-width="1.0" /><text x="326.3" y="354.55" font-size="4.6" font-family='"Liberation Sans", sans-serif' fill="#111" text-anchor="start" textLength="11.01" lengthAdjust="spacingAndGlyphs" stroke="#222" stroke-width="0.18">-30.0</text><line x1="319.7" y1="375.6" x2="323.3" y2="375.6" stroke="#808080" stroke-width="1.0" /><text x="326.3" y="377.85" font-size="4.6" font-family='"Liberation Sans", sans-serif' fill="#111" text-anchor="start" textLength="11.01" lengthAdjust="spacingAndGlyphs" stroke="#222" stroke-width="0.18">-40.0</text><line x1="319.7" y1="287.06" x2="321.7" y2="287.06" stroke="#b0b0b0" stroke-width="0.8" /><line x1="319.7" y1="291.72" x2="321.7" y2="291.72" stroke="#b0b0b0" stroke-width="0.8" /><line x1="319.7" y1="296.38" x2="321.7" y2="296.38" stroke="#b0b0b0" stroke-width="0.8" /><line x1="319.7" y1="301.04" x2="321.7" y2="301.04" stroke="#b0b0b0" stroke-width="0.8" /><line x1="319.7" y1="310.36" x2="321.7" y2="310.36" stroke="#b0b0b0" stroke-width="0.8" /><line x1="319.7" y1="315.02" x2="321.7" y2="315.02" stroke="#b0b0b0" stroke-width="0.8" /><line x1="319.7" y1="319.68" x2="321.7" y2="319.68" stroke="#b0b0b0" stroke-width="0.8" /><line x1="319.7" y1="324.34" x2="321.7" y2="324.34" stroke="#b0b0b0" stroke-width="0.8" /><line x1="319.7" y1="333.66" x2="321.7" y2="333.66" stroke="#b0b0b0" stroke-width="0.8" /><line x1="319.7" y1="338.32" x2="321.7" y2="338.32" stroke="#b0b0b0" stroke-width="0.8" /><line x1="319.7" y1="342.98" x2="321.7" y2="342.98" stroke="#b0b0b0" stroke-width="0.8" /><line x1="319.7" y1="347.64" x2="321.7" y2="347.64" stroke="#b0b0b0" stroke-width="0.8" /><line x1="319.7" y1="356.96" x2="321.7" y2="356.96" stroke="#b0b0b0" stroke-width="0.8" /><line x1="319.7" y1="361.62" x2="321.7" y2="361.62" stroke="#b0b0b0" stroke-width="0.8" /><line x1="319.7" y1="366.28" x2="321.7" y2="366.28" stroke="#b0b0b0" stroke-width="0.8" /><line x1="319.7" y1="370.94" x2="321.7" y2="370.94" stroke="#b0b0b0" stroke-width="0.8" /><line x1="251.4" y1="379.2" x2="251.4" y2="382.5" stroke="#808080" stroke-width="1.0" /><line x1="251.4" y1="279" x2="251.4" y2="282.3" stroke="#808080" stroke-width="1.0" /><text x="251.4" y="390.2" font-size="4.6" font-family='"Liberation Sans", sans-serif' fill="#111" text-anchor="middle" textLength="14.76" lengthAdjust="spacingAndGlyphs" stroke="#222" stroke-width="0.18">CMIP5</text><line x1="291.8" y1="379.2" x2="291.8" y2="382.5" stroke="#808080" stroke-width="1.0" /><line x1="291.8" y1="279" x2="291.8" y2="282.3" stroke="#808080" stroke-width="1.0" /><text x="291.8" y="390.2" font-size="4.6" font-family='"Liberation Sans", sans-serif' fill="#111" text-anchor="middle" textLength="12.62" lengthAdjust="spacingAndGlyphs" stroke="#222" stroke-width="0.18">LENS</text><text x="240.3" y="272.3" font-size="6.1" font-family='"Liberation Sans", sans-serif' fill="#111" text-anchor="start" textLength="61.4" lengthAdjust="spacingAndGlyphs" >2066-2095 vs 1976-2005</text><text x="258.7" y="278.1" font-size="6.1" font-family='"Liberation Sans", sans-serif' fill="#111" text-anchor="start" textLength="32.6" lengthAdjust="spacingAndGlyphs" >(in % change)</text><line x1="222.2" y1="428.2" x2="318.4" y2="428.2" stroke="#999" stroke-width="0.8" /><rect x="239.8" y="428.2" width="20.4" height="35.7" fill="#0000ff"/><rect x="280.2" y="428.2" width="20.4" height="35.1" fill="#0000ff"/><line x1="250" y1="431.5" x2="250" y2="496.1" stroke="rgba(0,0,0,0.22)" stroke-width="0.9" /><line x1="245.9" y1="431.5" x2="254.1" y2="431.5" stroke="rgba(0,0,0,0.33)" stroke-width="0.9" /><line x1="245.9" y1="496.1" x2="254.1" y2="496.1" stroke="rgba(0,0,0,0.33)" stroke-width="0.9" /><line x1="290.4" y1="445.7" x2="290.4" y2="480.5" stroke="rgba(0,0,0,0.22)" stroke-width="0.9" /><line x1="286.3" y1="445.7" x2="294.5" y2="445.7" stroke="rgba(0,0,0,0.33)" stroke-width="0.9" /><line x1="286.3" y1="480.5" x2="294.5" y2="480.5" stroke="rgba(0,0,0,0.33)" stroke-width="0.9" /><g stroke="#000" stroke-width="1.0"><path d="M246.2,467.7 V471.7 M244,468.4 L248.4,471 M244,471 L248.4,468.4"/></g><circle cx="246.2" cy="469.7" r="0.9" fill="#000"/><g stroke="#000" stroke-width="1.0"><path d="M286,466.8 V470.8 M283.8,467.5 L288.2,470.1 M283.8,470.1 L288.2,467.5"/></g><circle cx="286" cy="468.8" r="0.9" fill="#000"/><line x1="318.4" y1="428.2" x2="322" y2="428.2" stroke="#808080" stroke-width="1.0" /><text x="325" y="430.45" font-size="4.6" font-family='"Liberation Sans", sans-serif' fill="#111" text-anchor="start" textLength="6.71" lengthAdjust="spacingAndGlyphs" stroke="#222" stroke-width="0.18">0.0</text><line x1="318.4" y1="442.25" x2="322" y2="442.25" stroke="#808080" stroke-width="1.0" /><text x="325" y="444.5" font-size="4.6" font-family='"Liberation Sans", sans-serif' fill="#111" text-anchor="start" textLength="8.32" lengthAdjust="spacingAndGlyphs" stroke="#222" stroke-width="0.18">-0.5</text><line x1="318.4" y1="456.3" x2="322" y2="456.3" stroke="#808080" stroke-width="1.0" /><text x="325" y="458.55" font-size="4.6" font-family='"Liberation Sans", sans-serif' fill="#111" text-anchor="start" textLength="8.32" lengthAdjust="spacingAndGlyphs" stroke="#222" stroke-width="0.18">-1.0</text><line x1="318.4" y1="470.35" x2="322" y2="470.35" stroke="#808080" stroke-width="1.0" /><text x="325" y="472.6" font-size="4.6" font-family='"Liberation Sans", sans-serif' fill="#111" text-anchor="start" textLength="8.32" lengthAdjust="spacingAndGlyphs" stroke="#222" stroke-width="0.18">-1.5</text><line x1="318.4" y1="484.4" x2="322" y2="484.4" stroke="#808080" stroke-width="1.0" /><text x="325" y="486.65" font-size="4.6" font-family='"Liberation Sans", sans-serif' fill="#111" text-anchor="start" textLength="8.32" lengthAdjust="spacingAndGlyphs" stroke="#222" stroke-width="0.18">-2.0</text><line x1="318.4" y1="498.45" x2="322" y2="498.45" stroke="#808080" stroke-width="1.0" /><text x="325" y="500.7" font-size="4.6" font-family='"Liberation Sans", sans-serif' fill="#111" text-anchor="start" textLength="8.32" lengthAdjust="spacingAndGlyphs" stroke="#222" stroke-width="0.18">-2.5</text><line x1="318.4" y1="416.96" x2="320.4" y2="416.96" stroke="#b0b0b0" stroke-width="0.8" /><line x1="318.4" y1="419.77" x2="320.4" y2="419.77" stroke="#b0b0b0" stroke-width="0.8" /><line x1="318.4" y1="422.58" x2="320.4" y2="422.58" stroke="#b0b0b0" stroke-width="0.8" /><line x1="318.4" y1="425.39" x2="320.4" y2="425.39" stroke="#b0b0b0" stroke-width="0.8" /><line x1="318.4" y1="431.01" x2="320.4" y2="431.01" stroke="#b0b0b0" stroke-width="0.8" /><line x1="318.4" y1="433.82" x2="320.4" y2="433.82" stroke="#b0b0b0" stroke-width="0.8" /><line x1="318.4" y1="436.63" x2="320.4" y2="436.63" stroke="#b0b0b0" stroke-width="0.8" /><line x1="318.4" y1="439.44" x2="320.4" y2="439.44" stroke="#b0b0b0" stroke-width="0.8" /><line x1="318.4" y1="445.06" x2="320.4" y2="445.06" stroke="#b0b0b0" stroke-width="0.8" /><line x1="318.4" y1="447.87" x2="320.4" y2="447.87" stroke="#b0b0b0" stroke-width="0.8" /><line x1="318.4" y1="450.68" x2="320.4" y2="450.68" stroke="#b0b0b0" stroke-width="0.8" /><line x1="318.4" y1="453.49" x2="320.4" y2="453.49" stroke="#b0b0b0" stroke-width="0.8" /><line x1="318.4" y1="459.11" x2="320.4" y2="459.11" stroke="#b0b0b0" stroke-width="0.8" /><line x1="318.4" y1="461.92" x2="320.4" y2="461.92" stroke="#b0b0b0" stroke-width="0.8" /><line x1="318.4" y1="464.73" x2="320.4" y2="464.73" stroke="#b0b0b0" stroke-width="0.8" /><line x1="318.4" y1="467.54" x2="320.4" y2="467.54" stroke="#b0b0b0" stroke-width="0.8" /><line x1="318.4" y1="473.16" x2="320.4" y2="473.16" stroke="#b0b0b0" stroke-width="0.8" /><line x1="318.4" y1="475.97" x2="320.4" y2="475.97" stroke="#b0b0b0" stroke-width="0.8" /><line x1="318.4" y1="478.78" x2="320.4" y2="478.78" stroke="#b0b0b0" stroke-width="0.8" /><line x1="318.4" y1="481.59" x2="320.4" y2="481.59" stroke="#b0b0b0" stroke-width="0.8" /><line x1="318.4" y1="487.21" x2="320.4" y2="487.21" stroke="#b0b0b0" stroke-width="0.8" /><line x1="318.4" y1="490.02" x2="320.4" y2="490.02" stroke="#b0b0b0" stroke-width="0.8" /><line x1="318.4" y1="492.83" x2="320.4" y2="492.83" stroke="#b0b0b0" stroke-width="0.8" /><line x1="318.4" y1="495.64" x2="320.4" y2="495.64" stroke="#b0b0b0" stroke-width="0.8" /><line x1="318.4" y1="501.26" x2="320.4" y2="501.26" stroke="#b0b0b0" stroke-width="0.8" /><line x1="318.4" y1="504.07" x2="320.4" y2="504.07" stroke="#b0b0b0" stroke-width="0.8" /><line x1="318.4" y1="506.88" x2="320.4" y2="506.88" stroke="#b0b0b0" stroke-width="0.8" /><line x1="318.4" y1="509.69" x2="320.4" y2="509.69" stroke="#b0b0b0" stroke-width="0.8" /><line x1="250" y1="511.8" x2="250" y2="515.1" stroke="#808080" stroke-width="1.0" /><line x1="250" y1="412.2" x2="250" y2="415.5" stroke="#808080" stroke-width="1.0" /><text x="250" y="522.8" font-size="4.6" font-family='"Liberation Sans", sans-serif' fill="#111" text-anchor="middle" textLength="14.76" lengthAdjust="spacingAndGlyphs" stroke="#222" stroke-width="0.18">CMIP5</text><line x1="290.4" y1="511.8" x2="290.4" y2="515.1" stroke="#808080" stroke-width="1.0" /><line x1="290.4" y1="412.2" x2="290.4" y2="415.5" stroke="#808080" stroke-width="1.0" /><text x="290.4" y="522.8" font-size="4.6" font-family='"Liberation Sans", sans-serif' fill="#111" text-anchor="middle" textLength="12.62" lengthAdjust="spacingAndGlyphs" stroke="#222" stroke-width="0.18">LENS</text><text x="239.4" y="405.4" font-size="6.1" font-family='"Liberation Sans", sans-serif' fill="#111" text-anchor="start" textLength="61.4" lengthAdjust="spacingAndGlyphs" >2066-2095 vs 1976-2005</text><text x="257.3" y="411.2" font-size="6.1" font-family='"Liberation Sans", sans-serif' fill="#111" text-anchor="start" textLength="25.6" lengthAdjust="spacingAndGlyphs" >(in deg-lat)</text><rect x="30.1" y="15.5" width="289.9" height="96.9" fill="none" stroke="#808080" stroke-width="1"/><line x1="223.4" y1="15.5" x2="223.4" y2="112.4" stroke="#808080" stroke-width="1.0" /><rect x="30.1" y="15.5" width="10.4" height="10.9" fill="#fff" stroke="#808080" stroke-width="1"/><text x="35.4" y="23.8" font-size="10.2" font-family='"Liberation Sans", sans-serif' fill="#111" text-anchor="middle" stroke="#111" stroke-width="0.1">a</text><line x1="43.2" y1="30.5" x2="50.9" y2="30.5" stroke="#1f961f" stroke-width="1.1" /><text x="54.3" y="32.9" font-size="6.5" font-family='"Liberation Sans", sans-serif' fill="#111" text-anchor="start" textLength="18.6" lengthAdjust="spacingAndGlyphs" stroke="#111" stroke-width="0.12">CMIP5</text><line x1="181.2" y1="30.5" x2="189.2" y2="30.5" stroke="#ee4b16" stroke-width="1.1" /><text x="192.6" y="32.9" font-size="6.4" font-family='"Liberation Sans", sans-serif' fill="#111" text-anchor="start" textLength="15" lengthAdjust="spacingAndGlyphs" stroke="#111" stroke-width="0.12">LENS</text><rect x="29.4" y="148.9" width="290.3" height="96.6" fill="none" stroke="#808080" stroke-width="1"/><line x1="223" y1="148.9" x2="223" y2="245.5" stroke="#808080" stroke-width="1.0" /><rect x="29.4" y="148.9" width="11.1" height="10.9" fill="#fff" stroke="#808080" stroke-width="1"/><text x="34.7" y="157.2" font-size="10.2" font-family='"Liberation Sans", sans-serif' fill="#111" text-anchor="middle" stroke="#111" stroke-width="0.1">b</text><line x1="43.2" y1="164.85" x2="50.9" y2="164.85" stroke="#1f961f" stroke-width="1.1" /><text x="54.3" y="167.25" font-size="6.5" font-family='"Liberation Sans", sans-serif' fill="#111" text-anchor="start" textLength="18.6" lengthAdjust="spacingAndGlyphs" stroke="#111" stroke-width="0.12">CMIP5</text><line x1="181.2" y1="164.85" x2="189.2" y2="164.85" stroke="#ee4b16" stroke-width="1.1" /><text x="192.6" y="167.25" font-size="6.4" font-family='"Liberation Sans", sans-serif' fill="#111" text-anchor="start" textLength="15" lengthAdjust="spacingAndGlyphs" stroke="#111" stroke-width="0.12">LENS</text><rect x="29.4" y="282.3" width="290.3" height="96.9" fill="none" stroke="#808080" stroke-width="1"/><line x1="223.1" y1="282.3" x2="223.1" y2="379.2" stroke="#808080" stroke-width="1.0" /><rect x="29.4" y="282.3" width="11.1" height="10.9" fill="#fff" stroke="#808080" stroke-width="1"/><text x="34.7" y="290.6" font-size="10.2" font-family='"Liberation Sans", sans-serif' fill="#111" text-anchor="middle" stroke="#111" stroke-width="0.1">c</text><line x1="43.2" y1="296.3" x2="50.9" y2="296.3" stroke="#1f961f" stroke-width="1.1" /><text x="54.3" y="298.7" font-size="6.5" font-family='"Liberation Sans", sans-serif' fill="#111" text-anchor="start" textLength="18.6" lengthAdjust="spacingAndGlyphs" stroke="#111" stroke-width="0.12">CMIP5</text><line x1="181.2" y1="296.3" x2="189.2" y2="296.3" stroke="#ee4b16" stroke-width="1.1" /><text x="192.6" y="298.7" font-size="6.4" font-family='"Liberation Sans", sans-serif' fill="#111" text-anchor="start" textLength="15" lengthAdjust="spacingAndGlyphs" stroke="#111" stroke-width="0.12">LENS</text><rect x="29.35" y="415.5" width="289.05" height="96.3" fill="none" stroke="#808080" stroke-width="1"/><line x1="222.2" y1="415.5" x2="222.2" y2="511.8" stroke="#808080" stroke-width="1.0" /><rect x="29.35" y="415.5" width="11.15" height="10.9" fill="#fff" stroke="#808080" stroke-width="1"/><text x="34.65" y="423.8" font-size="10.2" font-family='"Liberation Sans", sans-serif' fill="#111" text-anchor="middle" stroke="#111" stroke-width="0.1">d</text><line x1="43.2" y1="427.1" x2="50.9" y2="427.1" stroke="#1f961f" stroke-width="1.1" /><text x="54.3" y="429.5" font-size="6.5" font-family='"Liberation Sans", sans-serif' fill="#111" text-anchor="start" textLength="18.6" lengthAdjust="spacingAndGlyphs" stroke="#111" stroke-width="0.12">CMIP5</text><line x1="181.2" y1="427.1" x2="189.2" y2="427.1" stroke="#ee4b16" stroke-width="1.1" /><text x="192.6" y="429.5" font-size="6.4" font-family='"Liberation Sans", sans-serif' fill="#111" text-anchor="start" textLength="15" lengthAdjust="spacingAndGlyphs" stroke="#111" stroke-width="0.12">LENS</text></svg>
</body></html>
